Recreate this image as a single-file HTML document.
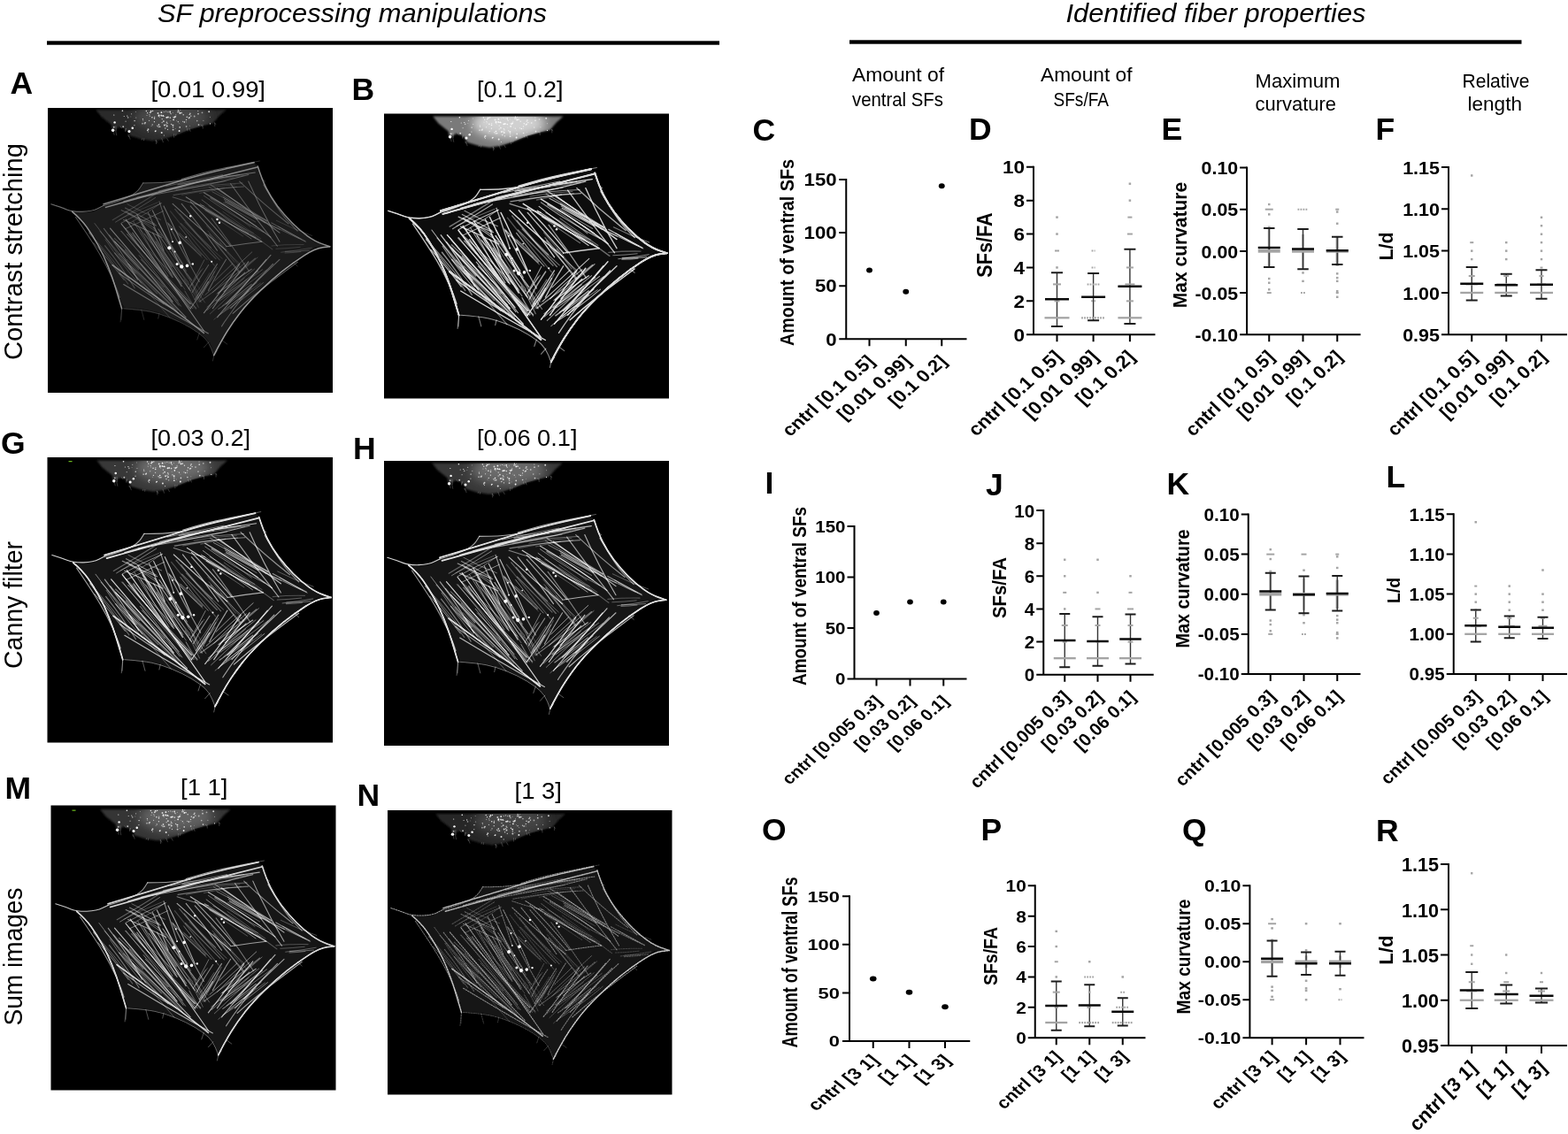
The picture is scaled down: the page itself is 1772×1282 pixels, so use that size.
<!DOCTYPE html>
<html><head><meta charset="utf-8"><title>SF preprocessing manipulations</title>
<style>html,body{margin:0;padding:0;background:#fff}svg{display:block}text{font-family:"Liberation Sans",sans-serif}.a{stroke-width:calc(var(--m)*.8px)}.b{stroke-width:calc(var(--m)*1.05px)}.c{stroke-width:calc(var(--m)*1.5px)}</style></head>
<body><svg width="1772" height="1282" viewBox="0 0 1772 1282">
<defs><clipPath id="sq"><rect width="322" height="322"/></clipPath>
<filter id="b0" x="-5%" y="-5%" width="110%" height="110%"><feGaussianBlur stdDeviation=".35"/></filter>
<filter id="b2" x="-30%" y="-30%" width="160%" height="160%"><feGaussianBlur stdDeviation="6"/></filter>
<filter id="b1" x="-5%" y="-5%" width="110%" height="110%"><feGaussianBlur stdDeviation="1.2"/></filter>
<filter id="bA" x="-5%" y="-5%" width="110%" height="110%"><feGaussianBlur stdDeviation="0.45"/><feComponentTransfer><feFuncA type="linear" slope="0.92"/></feComponentTransfer></filter><filter id="bB" x="-5%" y="-5%" width="110%" height="110%"><feGaussianBlur stdDeviation="0.3"/><feComponentTransfer><feFuncA type="linear" slope="1.7"/></feComponentTransfer></filter><filter id="bG" x="-5%" y="-5%" width="110%" height="110%"><feGaussianBlur stdDeviation="0.4"/><feComponentTransfer><feFuncA type="linear" slope="1.35"/></feComponentTransfer></filter><filter id="bH" x="-5%" y="-5%" width="110%" height="110%"><feGaussianBlur stdDeviation="0.4"/><feComponentTransfer><feFuncA type="linear" slope="1.35"/></feComponentTransfer></filter><filter id="bM" x="-5%" y="-5%" width="110%" height="110%"><feGaussianBlur stdDeviation="0.4"/><feComponentTransfer><feFuncA type="linear" slope="1.3"/></feComponentTransfer></filter><filter id="bN" x="-5%" y="-5%" width="110%" height="110%"><feGaussianBlur stdDeviation="0.35"/><feComponentTransfer><feFuncA type="linear" slope="1.1"/></feComponentTransfer></filter>
<clipPath id="ccl"><polygon points="3.8,108.8 15.1,112.1 27.7,117.2 50.4,116.7 63.0,110.4 83.1,104.6 100.8,95.7 107.8,84.4 131.0,84.4 151.2,80.6 176.4,73.1 201.6,67.5 226.8,62.5 233.1,61.2 237.3,66.0 241.9,80.6 252.0,100.8 267.1,120.9 284.7,138.6 302.3,151.2 318.7,156.7 302.3,158.2 277.1,174.4 252.0,194.5 226.8,219.7 209.1,242.4 196.5,262.5 187.7,280.2 181.9,264.6 171.3,254.5 151.2,242.4 126.0,232.3 105.8,228.3 85.7,226.8 80.6,216.7 73.1,191.5 63.0,166.3 50.4,143.6 37.8,126.0 27.7,117.9 15.1,113.4" stroke="#000" stroke-width="3"/></clipPath>
<g id="cbody"><polygon points="3.8,108.8 15.1,112.1 27.7,117.2 50.4,116.7 63.0,110.4 83.1,104.6 100.8,95.7 107.8,84.4 131.0,84.4 151.2,80.6 176.4,73.1 201.6,67.5 226.8,62.5 233.1,61.2 237.3,66.0 241.9,80.6 252.0,100.8 267.1,120.9 284.7,138.6 302.3,151.2 318.7,156.7 302.3,158.2 277.1,174.4 252.0,194.5 226.8,219.7 209.1,242.4 196.5,262.5 187.7,280.2 181.9,264.6 171.3,254.5 151.2,242.4 126.0,232.3 105.8,228.3 85.7,226.8 80.6,216.7 73.1,191.5 63.0,166.3 50.4,143.6 37.8,126.0 27.7,117.9 15.1,113.4"/></g>
<clipPath id="tcl"><polygon points="54.2,2.0 60.5,10.1 71.8,18.9 73.1,26.5 80.6,21.4 88.2,23.9 93.2,31.5 105.8,35.3 118.4,37.3 131.0,35.3 146.1,30.2 161.2,23.9 176.4,19.7 186.4,17.6 194.0,8.8 201.6,2.0"/></clipPath>
<g id="tbody"><polygon points="54.2,2.0 60.5,10.1 71.8,18.9 73.1,26.5 80.6,21.4 88.2,23.9 93.2,31.5 105.8,35.3 118.4,37.3 131.0,35.3 146.1,30.2 161.2,23.9 176.4,19.7 186.4,17.6 194.0,8.8 201.6,2.0"/></g>
<g id="fib" fill="none" stroke-linecap="round"><path class="c" d="M63.0 108.8Q131.0 88.2 153.7 81.3Q176.4 74.3 204.7 68.0L233.1 61.7" stroke-opacity="0.85"/><path class="c" d="M65.5 112.4Q141.1 91.2 189.0 79.1L236.8 67.0" stroke-opacity="0.80"/><path class="b" d="M85.7 105.8Q161.2 83.6 197.8 78.4L234.3 73.1" stroke-opacity="0.60"/><path class="b" d="M100.8 101.3Q176.4 88.2 201.6 81.9L226.8 75.6" stroke-opacity="0.50"/><path class="b" d="M107.8 84.9Q131.0 84.9 143.6 83.0L156.2 81.1" stroke-opacity="0.55"/><path class="b" d="M3.8 108.8Q15.1 112.4 21.4 114.9Q27.7 117.4 39.1 117.2Q50.4 116.9 56.7 113.6L63.0 110.4" stroke-opacity="0.70"/><path class="b" d="M63.0 110.4Q83.1 104.6 92.0 100.2Q100.8 95.7 104.3 90.2L107.8 84.7" stroke-opacity="0.55"/><path class="b" d="M151.2 80.6Q176.4 73.1 189.0 70.3Q201.6 67.5 217.3 64.4L233.1 61.2" stroke-opacity="0.60"/><path class="c" d="M27.7 117.4Q37.8 126.0 44.1 134.8Q50.4 143.6 56.7 155.0Q63.0 166.3 68.0 178.9Q73.1 191.5 76.8 204.1Q80.6 216.7 82.1 221.7L83.6 226.8" stroke-opacity="0.90"/><path class="b" d="M31.5 123.5Q50.4 151.2 58.2 164.4Q66.0 177.6 71.4 189.6Q76.8 201.6 79.0 207.9L81.1 214.2" stroke-opacity="0.50"/><path class="a" d="M83.6 226.8L83.1 239.4" stroke-opacity="0.30"/><path class="c" d="M73.1 177.6Q105.8 201.6 123.5 214.2Q141.1 226.8 158.7 240.6L176.4 254.5" stroke-opacity="0.80"/><path class="b" d="M85.7 199.5Q131.0 226.8 156.2 240.9L181.4 255.0" stroke-opacity="0.60"/><path class="b" d="M80.6 186.9Q110.9 209.1 126.0 218.2L141.1 227.3" stroke-opacity="0.50"/><path class="a" d="M85.7 226.8Q105.8 228.3 115.9 230.3Q126.0 232.3 138.6 237.3Q151.2 242.4 161.2 248.4Q171.3 254.5 176.6 259.5Q181.9 264.6 184.8 272.1L187.7 279.7" stroke-opacity="0.40"/><path class="c" d="M187.7 279.7Q196.5 262.5 202.8 252.5Q209.1 242.4 217.9 231.0Q226.8 219.7 239.4 207.4Q252.0 195.0 264.6 184.9Q277.1 174.9 289.7 166.8Q302.3 158.7 310.5 157.7L318.7 156.7" stroke-opacity="0.95"/><path class="b" d="M209.1 232.3Q226.8 216.7 239.4 206.9Q252.0 197.0 267.1 185.7L282.2 174.4" stroke-opacity="0.60"/><path class="c" d="M237.3 66.0Q241.9 80.6 246.9 90.7Q252.0 100.8 259.5 110.9Q267.1 120.9 275.9 129.8Q284.7 138.6 293.5 144.9Q302.3 151.2 310.5 153.9L318.7 156.7" stroke-opacity="0.85"/><path class="b" d="M243.9 86.9Q262.0 118.4 272.1 128.7L282.2 139.1" stroke-opacity="0.45"/><path class="b" d="M70.5 136.1Q106.1 177.4 141.1 219.2" stroke-opacity="0.70"/><path class="b" d="M75.6 151.2Q115.5 194.4 156.2 236.8" stroke-opacity="0.60"/><path class="b" d="M83.1 131.0Q119.1 179.0 161.2 221.7" stroke-opacity="0.75"/><path class="b" d="M88.2 126.0Q132.6 188.7 176.4 252.0" stroke-opacity="0.70"/><path class="b" d="M100.8 120.9Q125.9 161.3 151.2 201.6" stroke-opacity="0.60"/><path class="b" d="M105.8 131.0Q123.0 161.5 141.1 191.5" stroke-opacity="0.55"/><path class="b" d="M113.4 118.4Q123.3 139.4 131.0 161.2" stroke-opacity="0.50"/><path class="b" d="M118.4 115.9Q134.7 148.7 151.2 181.4" stroke-opacity="0.60"/><path class="b" d="M95.7 141.1Q127.6 184.6 161.2 226.8" stroke-opacity="0.50"/><path class="b" d="M75.6 163.8Q101.9 194.0 131.0 221.7" stroke-opacity="0.45"/><path class="a" d="M93.7 142.7Q125.4 187.4 163.6 226.7" stroke-opacity="0.46"/><path class="a" d="M84.8 171.9Q111.8 194.8 135.3 221.1" stroke-opacity="0.25"/><path class="b" d="M89.7 142.7Q128.6 184.7 167.7 226.5" stroke-opacity="0.38"/><path class="b" d="M87.4 160.3Q110.9 189.8 138.6 215.2" stroke-opacity="0.33"/><path class="a" d="M89.2 171.1Q116.8 201.1 146.8 228.6" stroke-opacity="0.34"/><path class="a" d="M103.2 166.7Q126.9 193.9 148.0 223.2" stroke-opacity="0.50"/><path class="b" d="M80.5 164.8Q101.0 188.4 123.5 210.0" stroke-opacity="0.27"/><path class="a" d="M83.3 139.2Q118.6 180.3 150.5 224.2" stroke-opacity="0.48"/><path class="a" d="M86.3 134.9Q119.5 164.4 149.6 197.1" stroke-opacity="0.42"/><path class="a" d="M74.3 150.1Q108.8 180.9 141.0 214.2" stroke-opacity="0.38"/><path class="a" d="M89.2 176.9Q112.0 208.5 138.1 237.3" stroke-opacity="0.31"/><path class="b" d="M75.4 147.3Q104.0 174.1 131.1 202.5" stroke-opacity="0.33"/><path class="a" d="M82.3 139.3Q123.0 183.0 161.9 228.3" stroke-opacity="0.32"/><path class="a" d="M105.4 171.4Q127.6 193.6 147.2 218.1" stroke-opacity="0.51"/><path class="b" d="M91.0 176.1Q120.6 202.6 147.6 231.9" stroke-opacity="0.47"/><path class="a" d="M92.0 179.1Q111.2 202.7 133.7 223.3" stroke-opacity="0.28"/><path class="a" d="M124.9 137.1Q143.4 163.9 158.9 192.5" stroke-opacity="0.40"/><path class="a" d="M102.6 126.0Q128.3 161.5 151.6 198.7" stroke-opacity="0.46"/><path class="a" d="M101.1 132.7Q129.9 167.5 155.0 205.2" stroke-opacity="0.36"/><path class="b" d="M119.6 135.2Q140.5 165.7 162.8 195.1" stroke-opacity="0.47"/><path class="b" d="M113.2 140.2Q135.2 169.4 159.0 197.3" stroke-opacity="0.25"/><path class="a" d="M96.6 128.1Q115.6 160.8 139.5 190.1" stroke-opacity="0.43"/><path class="b" d="M125.2 130.3Q138.0 154.1 152.9 176.7" stroke-opacity="0.43"/><path class="a" d="M104.0 136.8Q118.8 164.3 136.0 190.4" stroke-opacity="0.47"/><path class="a" d="M109.4 142.3Q127.5 164.3 142.5 188.5" stroke-opacity="0.40"/><path class="b" d="M122.2 151.0Q131.1 165.3 140.3 179.4" stroke-opacity="0.35"/><path class="a" d="M123.3 143.7Q141.1 171.7 158.7 199.9" stroke-opacity="0.26"/><path class="a" d="M125.0 136.8Q142.5 159.3 156.3 184.3" stroke-opacity="0.48"/><path class="b" d="M131.0 110.9Q147.2 143.1 161.2 176.4" stroke-opacity="0.60"/><path class="b" d="M141.1 108.3Q170.6 135.7 201.6 161.2" stroke-opacity="0.60"/><path class="b" d="M151.2 108.3Q172.6 133.8 191.5 161.2" stroke-opacity="0.55"/><path class="b" d="M161.2 105.8Q185.3 129.8 206.6 156.2" stroke-opacity="0.55"/><path class="b" d="M118.4 141.1Q137.7 175.2 161.2 206.6" stroke-opacity="0.50"/><path class="b" d="M136.1 131.0Q152.9 164.2 171.3 196.5" stroke-opacity="0.45"/><path class="b" d="M126.0 105.8Q133.7 128.4 141.1 151.2" stroke-opacity="0.45"/><path class="b" d="M135.1 129.5Q152.9 149.6 173.2 167.2" stroke-opacity="0.31"/><path class="a" d="M136.4 130.5Q154.3 151.0 174.3 169.4" stroke-opacity="0.23"/><path class="a" d="M143.4 136.9Q155.9 148.7 167.5 161.4" stroke-opacity="0.24"/><path class="b" d="M149.4 119.8Q165.6 140.4 184.7 158.2" stroke-opacity="0.28"/><path class="b" d="M138.4 116.7Q163.0 147.7 188.3 178.1" stroke-opacity="0.21"/><path class="a" d="M155.0 129.4Q175.0 151.0 197.2 170.4" stroke-opacity="0.31"/><path class="b" d="M143.7 114.4Q168.3 143.8 194.3 172.0" stroke-opacity="0.31"/><path class="a" d="M148.9 141.4Q162.3 152.7 173.7 166.0" stroke-opacity="0.32"/><path class="b" d="M150.4 130.5Q170.2 150.7 190.0 170.7" stroke-opacity="0.29"/><path class="a" d="M148.6 133.9Q163.0 153.8 180.0 171.5" stroke-opacity="0.43"/><path class="b" d="M156.2 100.8Q198.1 127.5 241.9 151.2" stroke-opacity="0.65"/><path class="b" d="M176.4 95.7Q215.7 118.7 252.0 146.1" stroke-opacity="0.60"/><path class="b" d="M191.5 90.7Q226.9 115.6 262.0 141.1" stroke-opacity="0.60"/><path class="b" d="M206.6 85.7Q232.3 121.5 259.5 156.2" stroke-opacity="0.50"/><path class="b" d="M226.8 83.1Q242.2 118.3 262.0 151.2" stroke-opacity="0.55"/><path class="b" d="M201.6 156.7Q221.7 153.5 241.9 151.2" stroke-opacity="0.55"/><path class="b" d="M161.2 110.9Q181.2 133.8 201.6 156.2" stroke-opacity="0.50"/><path class="b" d="M141.1 100.8Q158.4 106.9 176.4 110.9" stroke-opacity="0.40"/><path class="b" d="M216.7 83.1Q243.3 108.4 272.1 131.0" stroke-opacity="0.45"/><path class="b" d="M177.9 115.6Q206.0 131.8 234.8 146.8" stroke-opacity="0.47"/><path class="a" d="M174.1 103.9Q199.6 124.2 226.9 142.0" stroke-opacity="0.54"/><path class="a" d="M203.5 105.5Q221.0 115.8 238.7 125.8" stroke-opacity="0.27"/><path class="b" d="M181.9 110.8Q219.2 133.4 253.9 159.9" stroke-opacity="0.27"/><path class="b" d="M199.4 103.5Q230.1 122.3 262.7 137.5" stroke-opacity="0.40"/><path class="a" d="M197.9 117.3Q219.3 132.7 240.9 148.0" stroke-opacity="0.28"/><path class="a" d="M198.3 101.0Q222.4 114.9 245.5 130.1" stroke-opacity="0.50"/><path class="b" d="M200.3 106.0Q218.5 116.1 236.6 126.0" stroke-opacity="0.51"/><path class="a" d="M176.4 99.3Q208.5 122.4 243.7 140.5" stroke-opacity="0.43"/><path class="b" d="M183.8 101.5Q211.0 116.0 236.0 134.1" stroke-opacity="0.40"/><path class="a" d="M183.8 102.4Q207.3 117.1 229.0 134.5" stroke-opacity="0.33"/><path class="a" d="M198.4 107.1Q216.4 118.4 234.7 129.0" stroke-opacity="0.35"/><path class="a" d="M167.6 108.5Q199.5 126.0 232.4 141.6" stroke-opacity="0.31"/><path class="a" d="M185.9 94.8Q216.9 111.2 247.9 127.5" stroke-opacity="0.47"/><path class="a" d="M182.2 89.6Q216.1 110.0 250.2 130.2" stroke-opacity="0.36"/><path class="b" d="M184.1 86.9Q215.4 107.8 247.4 127.6" stroke-opacity="0.41"/><path class="a" d="M172.2 108.5Q201.7 127.4 230.1 148.0" stroke-opacity="0.52"/><path class="a" d="M170.5 110.2Q194.9 128.6 220.6 145.2" stroke-opacity="0.29"/><path class="a" d="M143.5 91.7Q172.3 86.7 201.2 82.5" stroke-opacity="0.36"/><path class="b" d="M142.0 98.4Q181.5 91.3 221.5 89.1" stroke-opacity="0.38"/><path class="a" d="M163.8 92.5Q187.7 88.2 211.9 86.9" stroke-opacity="0.24"/><path class="a" d="M156.6 86.4Q183.3 81.5 210.4 79.1" stroke-opacity="0.23"/><path class="b" d="M171.5 96.5Q185.5 93.4 199.4 90.5" stroke-opacity="0.21"/><path class="a" d="M151.5 98.3Q182.1 91.4 213.4 89.3" stroke-opacity="0.29"/><path class="b" d="M161.2 226.8Q171.8 212.0 181.4 196.5" stroke-opacity="0.60"/><path class="b" d="M176.4 231.8Q198.0 205.2 216.7 176.4" stroke-opacity="0.65"/><path class="b" d="M186.4 226.8Q205.3 199.3 226.8 173.8" stroke-opacity="0.65"/><path class="b" d="M191.5 236.8Q219.0 203.9 246.9 171.3" stroke-opacity="0.60"/><path class="b" d="M201.6 221.7Q227.8 195.0 252.0 166.3" stroke-opacity="0.60"/><path class="b" d="M206.6 226.8Q230.2 201.2 254.5 176.4" stroke-opacity="0.55"/><path class="b" d="M216.7 216.7Q238.2 192.9 262.0 171.3" stroke-opacity="0.55"/><path class="b" d="M181.4 206.6Q190.5 188.4 201.6 171.3" stroke-opacity="0.50"/><path class="b" d="M166.3 216.7Q178.9 196.5 191.5 176.4" stroke-opacity="0.50"/><path class="b" d="M196.5 246.9Q210.1 225.6 226.8 206.6" stroke-opacity="0.50"/><path class="a" d="M203.7 221.8Q220.1 209.8 236.2 197.4" stroke-opacity="0.44"/><path class="b" d="M199.0 207.8Q211.3 197.5 222.7 186.1" stroke-opacity="0.52"/><path class="b" d="M192.8 227.4Q212.2 214.2 230.3 199.4" stroke-opacity="0.46"/><path class="a" d="M190.8 210.2Q213.5 189.0 237.1 169.0" stroke-opacity="0.39"/><path class="a" d="M193.8 218.4Q218.6 201.2 242.5 182.8" stroke-opacity="0.45"/><path class="b" d="M190.2 218.3Q214.6 202.3 237.5 184.3" stroke-opacity="0.44"/><path class="a" d="M187.8 239.2Q212.6 216.8 240.3 198.1" stroke-opacity="0.33"/><path class="a" d="M178.0 211.3Q204.5 187.1 230.8 162.9" stroke-opacity="0.52"/><path class="a" d="M200.0 228.3Q215.3 216.3 230.3 203.9" stroke-opacity="0.49"/><path class="a" d="M183.3 232.9Q203.9 213.4 224.5 194.0" stroke-opacity="0.39"/><path class="a" d="M180.2 228.6Q200.9 209.9 222.3 192.1" stroke-opacity="0.41"/><path class="a" d="M186.5 208.3Q203.5 190.3 223.0 175.1" stroke-opacity="0.46"/><path class="b" d="M171.5 219.1Q204.0 195.8 234.6 170.0" stroke-opacity="0.37"/><path class="a" d="M188.8 195.5Q198.7 185.7 208.7 176.1" stroke-opacity="0.52"/><path class="a" d="M192.7 234.8Q219.5 218.1 243.5 197.6" stroke-opacity="0.47"/><path class="a" d="M197.4 223.6Q220.9 201.5 247.3 183.1" stroke-opacity="0.39"/><path class="a" d="M179.9 225.1Q207.0 203.9 233.6 182.1" stroke-opacity="0.39"/><path class="b" d="M192.4 209.5Q210.7 195.1 230.3 182.3" stroke-opacity="0.54"/><path class="a" d="M162.5 200.0Q168.1 191.9 173.3 183.5" stroke-opacity="0.34"/><path class="a" d="M167.6 209.0Q176.1 198.4 182.9 186.6" stroke-opacity="0.30"/><path class="a" d="M176.1 208.7Q184.0 194.6 191.3 180.2" stroke-opacity="0.32"/><path class="a" d="M159.2 204.8Q168.4 188.5 176.9 171.8" stroke-opacity="0.42"/><path class="b" d="M163.3 208.6Q171.4 192.4 181.7 177.5" stroke-opacity="0.44"/><path class="a" d="M161.9 201.2Q168.2 191.2 175.3 181.6" stroke-opacity="0.30"/><path class="a" d="M169.8 214.8Q179.4 202.8 188.0 190.2" stroke-opacity="0.33"/><path class="a" d="M172.2 215.1Q179.4 199.5 188.5 184.9" stroke-opacity="0.47"/><path class="a" d="M158.5 198.1Q165.3 208.0 171.1 218.6" stroke-opacity="0.36"/><path class="a" d="M154.0 194.1Q163.0 209.2 170.3 225.3" stroke-opacity="0.34"/><path class="a" d="M163.8 199.0Q170.0 210.0 177.6 220.0" stroke-opacity="0.34"/><path class="a" d="M155.0 207.2Q160.0 216.6 164.7 226.3" stroke-opacity="0.26"/><path class="a" d="M154.9 206.9Q161.4 217.2 167.5 227.8" stroke-opacity="0.27"/><path class="b" d="M159.6 192.8Q166.2 206.1 173.1 219.4" stroke-opacity="0.31"/><path class="a" d="M167.2 197.6Q171.7 205.0 176.3 212.3" stroke-opacity="0.20"/><path class="a" d="M161.8 204.1Q165.5 212.1 169.8 219.8" stroke-opacity="0.21"/><path class="b" d="M252.9 155.9Q270.9 154.2 289.1 154.6" stroke-opacity="0.22"/><path class="a" d="M263.7 163.2Q281.0 161.4 298.2 158.2" stroke-opacity="0.35"/><path class="a" d="M257.8 159.3Q271.5 158.8 285.2 157.3" stroke-opacity="0.30"/><path class="b" d="M268.4 162.2Q282.0 162.3 295.5 161.0" stroke-opacity="0.33"/><path class="b" d="M268.0 163.9Q277.0 163.6 285.9 162.5" stroke-opacity="0.30"/><path class="a" d="M83.0 130.2Q105.1 117.8 128.4 107.7" stroke-opacity="0.50"/><path class="a" d="M81.0 126.3Q102.0 115.2 124.2 106.8" stroke-opacity="0.26"/><path class="a" d="M92.1 130.5Q110.6 120.3 127.6 107.8" stroke-opacity="0.36"/><path class="b" d="M73.2 126.7Q97.7 112.4 121.7 97.3" stroke-opacity="0.31"/><path class="a" d="M76.5 129.2Q99.1 115.5 121.6 101.5" stroke-opacity="0.44"/><path class="a" d="M87.9 136.6Q109.3 126.8 130.4 116.7" stroke-opacity="0.48"/><path class="b" d="M85.6 126.6Q107.5 136.1 129.0 146.4" stroke-opacity="0.49"/><path class="a" d="M90.4 119.3Q110.5 130.3 128.7 144.3" stroke-opacity="0.41"/><path class="a" d="M88.1 116.8Q104.7 125.4 120.3 135.8" stroke-opacity="0.40"/><path class="b" d="M87.4 113.0Q104.5 121.5 120.9 131.3" stroke-opacity="0.41"/><path class="b" d="M83.2 115.6Q102.4 125.3 122.4 133.1" stroke-opacity="0.46"/><path class="a" d="M89.9 108.8Q108.0 118.9 127.5 126.3" stroke-opacity="0.37"/><path class="b" d="M64.5 155.7Q82.9 178.6 98.2 203.7" stroke-opacity="0.38"/><path class="b" d="M46.4 141.2Q69.5 169.4 90.8 199.0" stroke-opacity="0.30"/><path class="a" d="M52.9 130.5Q78.2 165.0 105.6 197.9" stroke-opacity="0.46"/><path class="b" d="M63.3 136.3Q84.7 163.8 101.5 194.2" stroke-opacity="0.50"/><path class="a" d="M65.1 148.7Q83.0 176.6 105.0 201.3" stroke-opacity="0.39"/><path class="a" d="M46.9 140.8Q70.2 167.2 91.8 195.0" stroke-opacity="0.36"/><path class="b" d="M59.1 139.5Q79.7 162.8 99.1 187.2" stroke-opacity="0.31"/><path class="a" d="M51.8 152.6Q70.2 172.6 86.2 194.6" stroke-opacity="0.50"/><path class="b" d="M69.5 143.9Q85.8 163.5 102.7 182.5" stroke-opacity="0.37"/><path class="a" d="M258.3 127.3Q278.0 137.3 298.8 144.5" stroke-opacity="0.30"/><path class="a" d="M260.6 134.1Q274.0 141.0 286.9 148.7" stroke-opacity="0.41"/><path class="b" d="M252.8 129.9Q271.6 140.7 290.9 150.6" stroke-opacity="0.45"/><path class="a" d="M251.5 132.6Q271.9 141.7 291.8 151.5" stroke-opacity="0.36"/><path class="b" d="M264.4 137.4Q273.9 143.1 284.0 147.6" stroke-opacity="0.24"/><path class="b" d="M125.3 93.9Q165.5 84.6 205.8 75.1" stroke-opacity="0.38"/><path class="a" d="M145.2 92.5Q182.4 86.2 220.1 84.9" stroke-opacity="0.36"/><path class="a" d="M133.7 88.5Q165.6 81.9 197.6 75.6" stroke-opacity="0.43"/><path class="a" d="M149.5 84.2Q185.4 80.7 221.2 76.5" stroke-opacity="0.34"/><path class="a" d="M147.2 86.4Q166.9 85.0 186.3 81.6" stroke-opacity="0.35"/><path class="a" d="M146.8 86.8Q181.8 81.4 216.7 75.5" stroke-opacity="0.41"/><path class="b" d="M185.1 124.9Q207.2 154.0 227.4 184.5" stroke-opacity="0.39"/><path class="a" d="M186.1 149.4Q202.0 167.3 216.2 186.6" stroke-opacity="0.36"/><path class="a" d="M179.5 133.5Q200.7 157.6 220.0 183.2" stroke-opacity="0.23"/><path class="a" d="M180.9 139.1Q197.6 159.2 217.1 176.5" stroke-opacity="0.33"/><path class="b" d="M182.7 142.6Q198.9 164.5 216.7 185.1" stroke-opacity="0.34"/><path class="a" d="M194.2 151.8Q202.5 163.3 211.0 174.5" stroke-opacity="0.28"/><path d="M83.6 226.8L82.1 241.9" stroke-opacity=".35" class="a"/><path d="M105.8 228.3L108.8 239.4" stroke-opacity=".35" class="a"/><path d="M126.0 232.3L124.7 238.1" stroke-opacity=".35" class="a"/><path d="M187.7 280.2L186.4 286.0" stroke-opacity=".35" class="a"/><path d="M196.5 262.5L202.8 267.1" stroke-opacity=".35" class="a"/><path d="M181.9 264.6L176.4 270.8" stroke-opacity=".35" class="a"/><path d="M233.1 61.2L239.4 60.0" stroke-opacity=".35" class="a"/><path d="M241.9 80.6L245.7 83.1" stroke-opacity=".35" class="a"/><path d="M277.1 174.4L282.2 178.9" stroke-opacity=".35" class="a"/><path d="M171.3 254.5L168.8 262.0" stroke-opacity=".35" class="a"/><path d="M187.7 280.2L191.5 274.6" stroke-opacity=".35" class="a"/></g>
<g id="spots"><circle cx="137.3" cy="158.2" r="2.0"/><circle cx="149.2" cy="152.4" r="1.8"/><circle cx="146.1" cy="176.4" r="1.5"/><circle cx="151.2" cy="179.4" r="2.1"/><circle cx="157.5" cy="178.4" r="1.8"/><circle cx="163.8" cy="176.4" r="1.2"/><circle cx="161.2" cy="122.2" r="1.2"/><circle cx="191.5" cy="126.0" r="1.2"/><circle cx="194.0" cy="129.8" r="1.2"/><circle cx="139.8" cy="137.3" r="1.0"/><circle cx="141.1" cy="151.2" r="0.9"/><circle cx="143.6" cy="162.5" r="0.9"/><circle cx="185.2" cy="173.8" r="1.0"/><circle cx="156.2" cy="146.1" r="0.8"/></g>
<g id="speck"><circle cx="135.5" cy="24.3" r="0.62" fill-opacity="0.80"/><circle cx="126.3" cy="10.6" r="0.41" fill-opacity="0.92"/><circle cx="131.9" cy="19.6" r="1.00" fill-opacity="0.74"/><circle cx="148.3" cy="4.2" r="0.78" fill-opacity="0.58"/><circle cx="90.7" cy="10.9" r="0.80" fill-opacity="0.53"/><circle cx="130.9" cy="15.1" r="0.92" fill-opacity="0.74"/><circle cx="96.1" cy="22.9" r="0.67" fill-opacity="0.97"/><circle cx="141.5" cy="10.2" r="0.48" fill-opacity="0.61"/><circle cx="160.2" cy="10.9" r="0.78" fill-opacity="0.65"/><circle cx="107.4" cy="12.6" r="0.61" fill-opacity="0.79"/><circle cx="84.4" cy="3.2" r="0.81" fill-opacity="0.96"/><circle cx="125.6" cy="8.3" r="0.92" fill-opacity="0.98"/><circle cx="160.9" cy="6.4" r="0.83" fill-opacity="0.61"/><circle cx="149.7" cy="2.8" r="0.57" fill-opacity="0.53"/><circle cx="120.4" cy="15.7" r="0.58" fill-opacity="0.88"/><circle cx="138.4" cy="11.1" r="0.77" fill-opacity="0.52"/><circle cx="128.4" cy="5.1" r="0.93" fill-opacity="0.99"/><circle cx="129.2" cy="16.4" r="0.76" fill-opacity="0.52"/><circle cx="141.6" cy="21.7" r="0.77" fill-opacity="0.58"/><circle cx="183.5" cy="17.8" r="0.59" fill-opacity="0.98"/><circle cx="153.2" cy="7.7" r="0.68" fill-opacity="0.76"/><circle cx="111.4" cy="3.5" r="0.74" fill-opacity="0.81"/><circle cx="161.8" cy="9.1" r="0.66" fill-opacity="0.86"/><circle cx="134.7" cy="20.6" r="0.99" fill-opacity="0.76"/><circle cx="129.2" cy="12.6" r="0.65" fill-opacity="0.79"/><circle cx="168.7" cy="14.6" r="0.78" fill-opacity="0.53"/><circle cx="112.7" cy="5.8" r="0.81" fill-opacity="0.68"/><circle cx="142.1" cy="13.4" r="0.81" fill-opacity="0.98"/><circle cx="132.8" cy="22.9" r="0.76" fill-opacity="0.66"/><circle cx="118.2" cy="18.9" r="0.62" fill-opacity="0.80"/><circle cx="125.1" cy="21.3" r="0.86" fill-opacity="0.51"/><circle cx="94.6" cy="6.8" r="0.59" fill-opacity="0.61"/><circle cx="139.4" cy="6.7" r="0.51" fill-opacity="0.72"/><circle cx="129.1" cy="9.0" r="0.59" fill-opacity="0.67"/><circle cx="147.0" cy="4.6" r="0.91" fill-opacity="0.58"/><circle cx="113.5" cy="24.2" r="0.93" fill-opacity="0.73"/><circle cx="135.1" cy="17.5" r="0.72" fill-opacity="0.60"/><circle cx="141.5" cy="19.6" r="0.88" fill-opacity="0.82"/><circle cx="141.3" cy="5.2" r="0.48" fill-opacity="0.65"/><circle cx="138.6" cy="6.1" r="0.61" fill-opacity="0.71"/><circle cx="109.6" cy="17.5" r="0.95" fill-opacity="0.58"/><circle cx="74.7" cy="21.8" r="0.96" fill-opacity="0.61"/><circle cx="116.6" cy="3.7" r="0.57" fill-opacity="0.67"/><circle cx="134.4" cy="16.3" r="0.75" fill-opacity="0.64"/><circle cx="135.9" cy="10.5" r="0.94" fill-opacity="0.85"/><circle cx="182.2" cy="4.2" r="0.94" fill-opacity="0.79"/><circle cx="175.9" cy="14.2" r="0.50" fill-opacity="0.65"/><circle cx="116.5" cy="3.6" r="0.65" fill-opacity="0.97"/><circle cx="114.9" cy="7.7" r="0.55" fill-opacity="0.93"/><circle cx="88.1" cy="15.2" r="0.61" fill-opacity="0.60"/><circle cx="86.2" cy="9.4" r="0.50" fill-opacity="0.90"/><circle cx="174.5" cy="5.3" r="0.89" fill-opacity="0.50"/><circle cx="152.7" cy="15.2" r="0.56" fill-opacity="0.76"/><circle cx="107.0" cy="17.7" r="0.87" fill-opacity="0.50"/><circle cx="145.7" cy="14.6" r="0.47" fill-opacity="0.53"/><circle cx="183.4" cy="10.2" r="0.45" fill-opacity="0.75"/><circle cx="123.9" cy="20.2" r="0.61" fill-opacity="0.82"/><circle cx="112.0" cy="8.6" r="0.51" fill-opacity="0.66"/><circle cx="156.6" cy="21.0" r="0.83" fill-opacity="0.69"/><circle cx="147.3" cy="15.7" r="0.62" fill-opacity="0.80"/><circle cx="138.2" cy="4.4" r="0.88" fill-opacity="0.81"/><circle cx="110.2" cy="16.6" r="0.70" fill-opacity="0.85"/><circle cx="97.9" cy="19.6" r="0.68" fill-opacity="0.62"/><circle cx="93.9" cy="9.9" r="0.44" fill-opacity="0.71"/><circle cx="85.2" cy="21.3" r="0.96" fill-opacity="0.69"/><circle cx="169.8" cy="3.5" r="0.56" fill-opacity="0.73"/><circle cx="160.6" cy="20.2" r="0.40" fill-opacity="0.57"/><circle cx="134.2" cy="10.3" r="0.46" fill-opacity="0.55"/><circle cx="144.9" cy="9.1" r="0.41" fill-opacity="0.92"/><circle cx="165.7" cy="9.5" r="0.88" fill-opacity="0.52"/><circle cx="130.3" cy="8.8" r="0.85" fill-opacity="0.97"/><circle cx="154.3" cy="16.0" r="0.74" fill-opacity="0.91"/><circle cx="133.8" cy="18.7" r="0.55" fill-opacity="0.81"/><circle cx="133.6" cy="4.0" r="0.62" fill-opacity="0.70"/><circle cx="117.1" cy="20.6" r="0.45" fill-opacity="0.75"/><circle cx="159.4" cy="11.4" r="0.85" fill-opacity="0.58"/><circle cx="118.6" cy="3.4" r="0.69" fill-opacity="0.82"/><circle cx="144.8" cy="9.9" r="0.46" fill-opacity="0.87"/><circle cx="160.2" cy="7.6" r="0.67" fill-opacity="0.86"/><circle cx="141.0" cy="19.5" r="0.52" fill-opacity="0.79"/><circle cx="125.5" cy="19.0" r="0.81" fill-opacity="0.98"/><circle cx="121.4" cy="26.5" r="0.65" fill-opacity="0.93"/><circle cx="115.3" cy="9.4" r="0.53" fill-opacity="0.51"/><circle cx="107.7" cy="14.1" r="0.50" fill-opacity="0.68"/><circle cx="113.4" cy="27.0" r="0.49" fill-opacity="1.00"/><circle cx="98.1" cy="14.6" r="0.68" fill-opacity="0.92"/><circle cx="147.4" cy="2.7" r="0.69" fill-opacity="0.86"/><circle cx="149.3" cy="5.9" r="0.84" fill-opacity="0.98"/><circle cx="114.6" cy="14.3" r="0.54" fill-opacity="0.86"/><circle cx="144.8" cy="7.7" r="0.51" fill-opacity="0.63"/><circle cx="148.6" cy="26.0" r="0.92" fill-opacity="0.95"/><circle cx="131.4" cy="31.0" r="0.59" fill-opacity="0.71"/><circle cx="131.5" cy="9.2" r="0.46" fill-opacity="0.92"/><circle cx="126.7" cy="21.2" r="0.75" fill-opacity="0.84"/><circle cx="156.5" cy="13.4" r="0.66" fill-opacity="0.74"/><circle cx="141.6" cy="24.6" r="0.97" fill-opacity="0.70"/><circle cx="120.4" cy="11.8" r="0.56" fill-opacity="0.83"/><circle cx="142.9" cy="10.8" r="0.96" fill-opacity="0.69"/><circle cx="122.0" cy="26.0" r="0.79" fill-opacity="0.90"/><circle cx="128.7" cy="28.0" r="0.98" fill-opacity="0.84"/><circle cx="120.6" cy="12.0" r="0.70" fill-opacity="0.68"/><circle cx="117.9" cy="10.7" r="0.79" fill-opacity="0.82"/><circle cx="125.5" cy="9.2" r="0.96" fill-opacity="0.57"/><circle cx="112.7" cy="25.5" r="0.76" fill-opacity="0.78"/><circle cx="115.7" cy="5.0" r="0.59" fill-opacity="0.59"/><circle cx="170.5" cy="19.0" r="0.85" fill-opacity="0.77"/><circle cx="131.4" cy="4.5" r="0.56" fill-opacity="0.69"/><circle cx="138.3" cy="11.1" r="0.70" fill-opacity="0.62"/><circle cx="135.9" cy="4.6" r="0.60" fill-opacity="0.70"/><circle cx="89.8" cy="9.0" r="0.61" fill-opacity="0.92"/><circle cx="148.7" cy="17.6" r="0.46" fill-opacity="0.56"/><circle cx="139.7" cy="18.3" r="0.65" fill-opacity="0.87"/><circle cx="120.7" cy="10.2" r="0.64" fill-opacity="0.60"/><circle cx="99.8" cy="11.0" r="0.52" fill-opacity="0.63"/><circle cx="134.3" cy="10.8" r="0.88" fill-opacity="0.95"/><circle cx="157.3" cy="10.2" r="0.73" fill-opacity="0.79"/><circle cx="124.5" cy="6.0" r="0.92" fill-opacity="0.74"/><circle cx="99.3" cy="4.4" r="0.40" fill-opacity="0.89"/><circle cx="117.1" cy="4.1" r="0.71" fill-opacity="0.73"/><circle cx="144.1" cy="23.4" r="0.42" fill-opacity="0.75"/><circle cx="115.9" cy="5.3" r="0.74" fill-opacity="0.98"/><circle cx="143.9" cy="10.0" r="0.88" fill-opacity="0.81"/><circle cx="156.3" cy="15.7" r="0.54" fill-opacity="0.54"/><circle cx="74.8" cy="8.0" r="0.59" fill-opacity="0.94"/><circle cx="128.2" cy="8.5" r="0.91" fill-opacity="0.80"/><circle cx="170.0" cy="6.7" r="0.84" fill-opacity="0.67"/><circle cx="151.0" cy="5.6" r="0.85" fill-opacity="0.74"/><circle cx="138.9" cy="14.7" r="0.45" fill-opacity="0.60"/><circle cx="149.2" cy="21.9" r="0.82" fill-opacity="0.77"/><circle cx="73.6" cy="25.2" r="1.70" fill-opacity="1.00"/><circle cx="92.0" cy="26.5" r="1.50" fill-opacity="1.00"/><circle cx="75.6" cy="16.4" r="1.20" fill-opacity="1.00"/><circle cx="95.7" cy="22.7" r="1.20" fill-opacity="1.00"/><path d="M74.0 25.5l1.2 5.2" stroke="#fff" stroke-opacity=".3" stroke-width=".7"/><path d="M76.6 25.5l1.2 5.7" stroke="#fff" stroke-opacity=".3" stroke-width=".7"/><path d="M76.9 20.4l0.4 5.8" stroke="#fff" stroke-opacity=".3" stroke-width=".7"/><path d="M81.8 20.4l1.7 2.5" stroke="#fff" stroke-opacity=".3" stroke-width=".7"/><path d="M87.9 22.9l-0.3 4.2" stroke="#fff" stroke-opacity=".3" stroke-width=".7"/><path d="M88.8 22.9l-1.0 2.9" stroke="#fff" stroke-opacity=".3" stroke-width=".7"/><path d="M91.5 30.5l1.7 5.1" stroke="#fff" stroke-opacity=".3" stroke-width=".7"/><path d="M90.5 30.5l1.4 2.6" stroke="#fff" stroke-opacity=".3" stroke-width=".7"/><path d="M106.8 34.3l-0.6 2.0" stroke="#fff" stroke-opacity=".3" stroke-width=".7"/><path d="M108.8 34.3l-0.4 2.9" stroke="#fff" stroke-opacity=".3" stroke-width=".7"/><path d="M122.3 36.3l1.6 3.2" stroke="#fff" stroke-opacity=".3" stroke-width=".7"/><path d="M122.1 36.3l0.6 4.7" stroke="#fff" stroke-opacity=".3" stroke-width=".7"/><path d="M128.7 34.3l1.8 4.8" stroke="#fff" stroke-opacity=".3" stroke-width=".7"/><path d="M134.7 34.3l1.7 3.2" stroke="#fff" stroke-opacity=".3" stroke-width=".7"/><path d="M145.0 29.2l-0.5 2.6" stroke="#fff" stroke-opacity=".3" stroke-width=".7"/><path d="M142.7 29.2l-0.1 4.4" stroke="#fff" stroke-opacity=".3" stroke-width=".7"/><path d="M157.3 22.9l1.0 3.4" stroke="#fff" stroke-opacity=".3" stroke-width=".7"/><path d="M159.7 22.9l1.5 3.9" stroke="#fff" stroke-opacity=".3" stroke-width=".7"/><path d="M174.9 18.7l0.4 4.8" stroke="#fff" stroke-opacity=".3" stroke-width=".7"/><path d="M172.8 18.7l1.9 2.1" stroke="#fff" stroke-opacity=".3" stroke-width=".7"/><path d="M188.4 16.6l1.5 2.1" stroke="#fff" stroke-opacity=".3" stroke-width=".7"/><path d="M188.7 16.6l0.1 4.3" stroke="#fff" stroke-opacity=".3" stroke-width=".7"/></g>
</defs>
<rect width="1772" height="1282" fill="#fff"/>
<text transform="translate(178.00 25.00)" font-size="30" font-style="italic" textLength="440.0" lengthAdjust="spacingAndGlyphs">SF preprocessing manipulations</text>
<text transform="translate(1204.50 25.00)" font-size="30" font-style="italic" textLength="339.0" lengthAdjust="spacingAndGlyphs">Identified fiber properties</text>
<rect x="53" y="46.3" width="760" height="4.4"/>
<rect x="960" y="45.3" width="759.5" height="4.4"/>
<text transform="translate(963.00 92.00)" font-size="21.5" textLength="104.0" lengthAdjust="spacingAndGlyphs">Amount of</text>
<text transform="translate(963.00 119.50)" font-size="21.5" textLength="103.0" lengthAdjust="spacingAndGlyphs">ventral SFs</text>
<text transform="translate(1176.00 92.00)" font-size="21.5" textLength="103.5" lengthAdjust="spacingAndGlyphs">Amount of</text>
<text transform="translate(1190.50 119.50)" font-size="21.5" textLength="62.5" lengthAdjust="spacingAndGlyphs">SFs/FA</text>
<text transform="translate(1418.50 98.50)" font-size="21.5" textLength="96.0" lengthAdjust="spacingAndGlyphs">Maximum</text>
<text transform="translate(1418.50 125.00)" font-size="21.5" textLength="91.5" lengthAdjust="spacingAndGlyphs">curvature</text>
<text transform="translate(1652.50 98.50)" font-size="21.5" textLength="76.0" lengthAdjust="spacingAndGlyphs">Relative</text>
<text transform="translate(1658.50 125.00)" font-size="21.5" textLength="61.5" lengthAdjust="spacingAndGlyphs">length</text>
<text transform="translate(11.50 105.50)" font-size="35.5" font-weight="bold">A</text>
<text transform="translate(397.50 112.50)" font-size="35.5" font-weight="bold">B</text>
<text transform="translate(850.50 159.00)" font-size="35.5" font-weight="bold">C</text>
<text transform="translate(1095.00 158.00)" font-size="35.5" font-weight="bold">D</text>
<text transform="translate(1312.50 158.00)" font-size="35.5" font-weight="bold">E</text>
<text transform="translate(1554.50 158.00)" font-size="35.5" font-weight="bold">F</text>
<text transform="translate(1.00 513.00)" font-size="35.5" font-weight="bold">G</text>
<text transform="translate(399.00 518.75)" font-size="35.5" font-weight="bold">H</text>
<text transform="translate(864.50 557.50)" font-size="35.5" font-weight="bold">I</text>
<text transform="translate(1114.00 559.50)" font-size="35.5" font-weight="bold">J</text>
<text transform="translate(1318.50 558.75)" font-size="35.5" font-weight="bold">K</text>
<text transform="translate(1566.50 551.25)" font-size="35.5" font-weight="bold">L</text>
<text transform="translate(5.50 903.00)" font-size="35.5" font-weight="bold">M</text>
<text transform="translate(403.50 910.50)" font-size="35.5" font-weight="bold">N</text>
<text transform="translate(861.00 950.00)" font-size="35.5" font-weight="bold">O</text>
<text transform="translate(1108.50 950.00)" font-size="35.5" font-weight="bold">P</text>
<text transform="translate(1336.00 950.00)" font-size="35.5" font-weight="bold">Q</text>
<text transform="translate(1555.00 950.50)" font-size="35.5" font-weight="bold">R</text>
<text transform="translate(170.50 110.30)" font-size="26" textLength="129.5" lengthAdjust="spacingAndGlyphs">[0.01 0.99]</text>
<text transform="translate(539.00 110.30)" font-size="26" textLength="97.5" lengthAdjust="spacingAndGlyphs">[0.1 0.2]</text>
<text transform="translate(170.50 503.50)" font-size="26" textLength="112.5" lengthAdjust="spacingAndGlyphs">[0.03 0.2]</text>
<text transform="translate(539.00 503.50)" font-size="26" textLength="113.5" lengthAdjust="spacingAndGlyphs">[0.06 0.1]</text>
<text transform="translate(204.00 898.50)" font-size="26" textLength="53.5" lengthAdjust="spacingAndGlyphs">[1 1]</text>
<text transform="translate(581.50 902.50)" font-size="26" textLength="53.5" lengthAdjust="spacingAndGlyphs">[1 3]</text>
<text transform="translate(24.50 284.50) rotate(-90)" font-size="29" text-anchor="middle" textLength="245.0" lengthAdjust="spacingAndGlyphs">Contrast stretching</text>
<text transform="translate(24.50 684.00) rotate(-90)" font-size="29" text-anchor="middle" textLength="144.0" lengthAdjust="spacingAndGlyphs">Canny filter</text>
<text transform="translate(24.50 1081.50) rotate(-90)" font-size="29" text-anchor="middle" textLength="156.0" lengthAdjust="spacingAndGlyphs">Sum images</text>
<g transform="translate(54.0 122.0) scale(1.0000)">
<rect width="322" height="322" fill="#000"/>
<g clip-path="url(#sq)"><g transform="translate(0 0)">
<use href="#tbody" fill="#2c2c2c" filter="url(#b1)"/>
<g clip-path="url(#tcl)"><ellipse cx="140" cy="10" rx="42" ry="17" fill="#484848" filter="url(#b2)"/></g>
<use href="#speck" fill="#fff" fill-opacity="0.8" filter="url(#b0)"/>
<use href="#cbody" fill="#1b1b1b" filter="url(#b1)"/>
<g stroke="#adadad" filter="url(#bA)" style="--m:1.00"><use href="#fib"/></g>
<use href="#spots" fill="#fff" filter="url(#b0)"/>
</g></g></g>
<g transform="translate(434.0 128.5) scale(1.0000)">
<rect width="322" height="322" fill="#000"/>
<g clip-path="url(#sq)"><g transform="translate(1 1)">
<use href="#tbody" fill="#7a7a7a" filter="url(#b1)"/>
<g clip-path="url(#tcl)"><ellipse cx="140" cy="10" rx="42" ry="17" fill="#d0d0d0" filter="url(#b2)"/></g>
<use href="#speck" fill="#fff" fill-opacity="1" filter="url(#b0)"/>
<use href="#cbody" fill="#090909" filter="url(#b1)"/>
<g stroke="#dadada" filter="url(#bB)" style="--m:1.30"><use href="#fib"/></g>
<use href="#spots" fill="#fff" filter="url(#b0)"/>
</g></g></g>
<g transform="translate(53.5 517.0) scale(1.0016)">
<rect width="322" height="322" fill="#000"/>
<g clip-path="url(#sq)"><g transform="translate(1.5 1.5)">
<use href="#tbody" fill="#383838" filter="url(#b1)"/>
<g clip-path="url(#tcl)"><ellipse cx="140" cy="10" rx="42" ry="17" fill="#6a6a6a" filter="url(#b2)"/></g>
<use href="#speck" fill="#fff" fill-opacity="1" filter="url(#b0)"/>
<rect x="22.5" y="2.6" width="4" height="1.1" fill="#7c2"/>
<use href="#cbody" fill="#171717" filter="url(#b1)"/>
<g stroke="#e0e0e0" filter="url(#bG)" style="--m:1.10"><use href="#fib"/></g>
<use href="#spots" fill="#fff" filter="url(#b0)"/>
</g></g></g>
<g transform="translate(434.0 521.0) scale(1.0000)">
<rect width="322" height="322" fill="#000"/>
<g clip-path="url(#sq)"><g transform="translate(0 0.5)">
<use href="#tbody" fill="#383838" filter="url(#b1)"/>
<g clip-path="url(#tcl)"><ellipse cx="140" cy="10" rx="42" ry="17" fill="#6a6a6a" filter="url(#b2)"/></g>
<use href="#speck" fill="#fff" fill-opacity="1" filter="url(#b0)"/>
<use href="#cbody" fill="#161616" filter="url(#b1)"/>
<g stroke="#e0e0e0" filter="url(#bH)" style="--m:1.10"><use href="#fib"/></g>
<use href="#spots" fill="#fff" filter="url(#b0)"/>
</g></g></g>
<g transform="translate(57.5 910.5) scale(1.0000)">
<rect width="322" height="322" fill="#000"/>
<g clip-path="url(#sq)"><g transform="translate(1.5 2.5)">
<use href="#tbody" fill="#343434" filter="url(#b1)"/>
<g clip-path="url(#tcl)"><ellipse cx="140" cy="10" rx="42" ry="17" fill="#626262" filter="url(#b2)"/></g>
<use href="#speck" fill="#fff" fill-opacity="1" filter="url(#b0)"/>
<rect x="22.5" y="2.6" width="4" height="1.1" fill="#7c2"/>
<use href="#cbody" fill="#171717" filter="url(#b1)"/>
<g stroke="#d6d6d6" filter="url(#bM)" style="--m:1.05"><use href="#fib"/></g>
<use href="#spots" fill="#fff" filter="url(#b0)"/>
</g></g></g>
<g transform="translate(438.0 916.0) scale(0.9984)">
<rect width="322" height="322" fill="#000"/>
<g clip-path="url(#sq)"><g transform="translate(0 2)">
<use href="#tbody" fill="#262626" filter="url(#b1)"/>
<g clip-path="url(#tcl)"><ellipse cx="140" cy="10" rx="42" ry="17" fill="#444" filter="url(#b2)"/></g>
<use href="#speck" fill="#fff" fill-opacity="0.6" filter="url(#b0)"/>
<use href="#cbody" fill="#121212" filter="url(#b1)"/>
<g stroke="#c6c6c6" stroke-dasharray="1.6 1.2" filter="url(#bN)" style="--m:1.00"><use href="#fib"/></g>
<use href="#spots" fill="#fff" filter="url(#b0)"/>
</g></g></g>
<path d="M956.25 202.00V384.25 M948.25 383.25H1092.50" stroke="#000" stroke-width="2" fill="none"/>
<path d="M948.25 203.00H956.25M948.25 263.08H956.25M948.25 323.17H956.25M982.50 383.25V391.25M1023.75 383.25V391.25M1064.25 383.25V391.25" stroke="#000" stroke-width="2" fill="none"/>
<text transform="translate(945.65 210.28) scale(1.145 1)" font-size="19.4" text-anchor="end" font-weight="bold">150</text>
<text transform="translate(945.65 270.37) scale(1.145 1)" font-size="19.4" text-anchor="end" font-weight="bold">100</text>
<text transform="translate(945.65 330.45) scale(1.145 1)" font-size="19.4" text-anchor="end" font-weight="bold">50</text>
<text transform="translate(945.65 390.53) scale(1.145 1)" font-size="19.4" text-anchor="end" font-weight="bold">0</text>
<text transform="translate(896.50 285.50) scale(1.146 1) rotate(-90)" font-size="19.8" text-anchor="middle" font-weight="bold">Amount of ventral SFs</text>
<text transform="translate(989.50 409.75) scale(1.145 1) rotate(-45)" font-size="19.4" text-anchor="end" font-weight="bold">cntrl [0.1 0.5]</text>
<text transform="translate(1030.75 409.75) scale(1.145 1) rotate(-45)" font-size="19.4" text-anchor="end" font-weight="bold">[0.01 0.99]</text>
<text transform="translate(1071.25 409.75) scale(1.145 1) rotate(-45)" font-size="19.4" text-anchor="end" font-weight="bold">[0.1 0.2]</text>
<ellipse cx="982.50" cy="305.50" rx="3.44" ry="3.00"/>
<ellipse cx="1023.75" cy="329.75" rx="3.44" ry="3.00"/>
<ellipse cx="1064.25" cy="210.25" rx="3.44" ry="3.00"/>
<path d="M1168.00 187.75V379.25 M1160.00 378.25H1305.50" stroke="#000" stroke-width="2" fill="none"/>
<path d="M1160.00 188.75H1168.00M1160.00 226.65H1168.00M1160.00 264.55H1168.00M1160.00 302.45H1168.00M1160.00 340.35H1168.00M1194.50 378.25V386.25M1235.60 378.25V386.25M1276.90 378.25V386.25" stroke="#000" stroke-width="2" fill="none"/>
<text transform="translate(1158.00 196.43) scale(1.100 1)" font-size="20.5" text-anchor="end" font-weight="bold">10</text>
<text transform="translate(1158.00 234.33) scale(1.100 1)" font-size="20.5" text-anchor="end" font-weight="bold">8</text>
<text transform="translate(1158.00 272.23) scale(1.100 1)" font-size="20.5" text-anchor="end" font-weight="bold">6</text>
<text transform="translate(1158.00 310.13) scale(1.100 1)" font-size="20.5" text-anchor="end" font-weight="bold">4</text>
<text transform="translate(1158.00 348.03) scale(1.100 1)" font-size="20.5" text-anchor="end" font-weight="bold">2</text>
<text transform="translate(1158.00 385.93) scale(1.100 1)" font-size="20.5" text-anchor="end" font-weight="bold">0</text>
<text transform="translate(1121.00 277.00) scale(1.080 1) rotate(-90)" font-size="21.7" text-anchor="middle" font-weight="bold">SFs/FA</text>
<text transform="translate(1201.50 404.75) scale(1.100 1) rotate(-45)" font-size="20.5" text-anchor="end" font-weight="bold">cntrl [0.1 0.5]</text>
<text transform="translate(1242.60 404.75) scale(1.100 1) rotate(-45)" font-size="20.5" text-anchor="end" font-weight="bold">[0.01 0.99]</text>
<text transform="translate(1283.90 404.75) scale(1.100 1) rotate(-45)" font-size="20.5" text-anchor="end" font-weight="bold">[0.1 0.2]</text>
<path d="M1194.50 308.25V369.00M1235.60 309.00V362.25M1276.90 281.75V366.00" stroke="#333" stroke-width="1.4" fill="none"/>
<g fill="#a4a4a4" stroke="#a4a4a4"><rect x="1193.73" y="244.90" width="1.54" height="1.4"/><rect x="1193.73" y="263.85" width="1.54" height="1.4"/><path d="M1192.00 283.50H1197.00" stroke-width="2.0"/><rect x="1193.73" y="301.75" width="1.54" height="1.4"/><path d="M1190.00 321.40H1199.00" stroke-width="2.0"/><path d="M1191.50 340.35H1197.50" stroke-width="2.0"/><path d="M1180.50 359.30H1208.50" stroke-width="2.3"/><path d="M1233.60 283.50H1237.60" stroke-width="2.0" stroke-dasharray="1.8 1.2"/><path d="M1233.60 302.45H1237.60" stroke-width="2.0" stroke-dasharray="1.8 1.2"/><path d="M1228.60 321.40H1242.60" stroke-width="2.0" stroke-dasharray="1.8 1.2"/><path d="M1233.10 340.35H1238.10" stroke-width="2.0" stroke-dasharray="1.8 1.2"/><path d="M1222.10 359.30H1249.10" stroke-width="2.3" stroke-dasharray="1.8 1.2"/><rect x="1276.13" y="207.00" width="1.54" height="1.4"/><rect x="1276.13" y="225.95" width="1.54" height="1.4"/><path d="M1274.40 245.60H1279.40" stroke-width="2.0"/><path d="M1273.90 264.55H1279.90" stroke-width="2.0"/><path d="M1272.90 302.45H1280.90" stroke-width="2.0"/><path d="M1271.40 321.40H1282.40" stroke-width="2.0"/><path d="M1272.90 340.35H1280.90" stroke-width="2.0"/><path d="M1263.40 359.30H1290.40" stroke-width="2.3"/></g>
<path d="M1188.00 308.25H1201.00M1188.00 369.00H1201.00M1229.10 309.00H1242.10M1229.10 362.25H1242.10M1270.40 281.75H1283.40M1270.40 366.00H1283.40" stroke="#1c1c1c" stroke-width="1.8" fill="none"/>
<path d="M1181.00 338.25H1208.00M1222.10 335.75H1249.10M1263.40 323.75H1290.40" stroke="#0a0a0a" stroke-width="2.3" fill="none"/>
<path d="M1409.10 188.50V379.25 M1401.10 378.25H1537.60" stroke="#000" stroke-width="2" fill="none"/>
<path d="M1401.10 189.50H1409.10M1401.10 236.69H1409.10M1401.10 283.88H1409.10M1401.10 331.06H1409.10M1434.25 378.25V386.25M1472.50 378.25V386.25M1511.25 378.25V386.25" stroke="#000" stroke-width="2" fill="none"/>
<text transform="translate(1399.10 197.18) scale(1.040 1)" font-size="20.5" text-anchor="end" font-weight="bold">0.10</text>
<text transform="translate(1399.10 244.37) scale(1.040 1)" font-size="20.5" text-anchor="end" font-weight="bold">0.05</text>
<text transform="translate(1399.10 291.56) scale(1.040 1)" font-size="20.5" text-anchor="end" font-weight="bold">0.00</text>
<text transform="translate(1399.10 338.74) scale(1.040 1)" font-size="20.5" text-anchor="end" font-weight="bold">-0.05</text>
<text transform="translate(1399.10 385.93) scale(1.040 1)" font-size="20.5" text-anchor="end" font-weight="bold">-0.10</text>
<text transform="translate(1341.00 277.00) scale(1.060 1) rotate(-90)" font-size="21" text-anchor="middle" font-weight="bold">Max curvature</text>
<text transform="translate(1441.25 404.75) scale(1.040 1) rotate(-45)" font-size="20.5" text-anchor="end" font-weight="bold">cntrl [0.1 0.5]</text>
<text transform="translate(1479.50 404.75) scale(1.040 1) rotate(-45)" font-size="20.5" text-anchor="end" font-weight="bold">[0.01 0.99]</text>
<text transform="translate(1518.25 404.75) scale(1.040 1) rotate(-45)" font-size="20.5" text-anchor="end" font-weight="bold">[0.1 0.2]</text>
<g stroke="#b4b4b4"><path d="M1434.25 302.75V255.56" stroke-width="3.0"/><path d="M1472.50 302.75V265.00" stroke-width="2.8"/><path d="M1511.25 300.86V266.89" stroke-width="3.4"/></g>
<path d="M1434.25 258.00V302.00M1472.50 259.00V304.25M1511.25 267.75V299.00" stroke="#333" stroke-width="1.4" fill="none"/>
<g fill="#a4a4a4" stroke="#a4a4a4"><rect x="1433.52" y="230.33" width="1.46" height="1.4"/><path d="M1429.75 236.69H1438.75" stroke-width="2.0"/><rect x="1433.52" y="241.65" width="1.46" height="1.4"/><path d="M1421.75 283.88H1446.75" stroke-width="3.6"/><rect x="1433.52" y="314.32" width="1.46" height="1.4"/><rect x="1433.52" y="319.04" width="1.46" height="1.4"/><rect x="1433.52" y="326.59" width="1.46" height="1.4"/><path d="M1431.75 331.06H1436.75" stroke-width="2.0"/><path d="M1466.50 236.69H1478.50" stroke-width="2.0" stroke-dasharray="1.8 1.2"/><path d="M1460.00 283.88H1485.00" stroke-width="3.6"/><rect x="1471.77" y="307.71" width="1.46" height="1.4"/><rect x="1471.77" y="317.15" width="1.46" height="1.4"/><path d="M1470.00 331.06H1475.00" stroke-width="2.0" stroke-dasharray="1.8 1.2"/><path d="M1509.25 236.69H1513.25" stroke-width="2.0"/><rect x="1510.52" y="238.82" width="1.46" height="1.4"/><rect x="1510.52" y="252.03" width="1.46" height="1.4"/><path d="M1498.75 283.88H1523.75" stroke-width="3.6"/><rect x="1510.52" y="308.66" width="1.46" height="1.4"/><rect x="1510.52" y="313.38" width="1.46" height="1.4"/><rect x="1510.52" y="317.15" width="1.46" height="1.4"/><rect x="1510.52" y="328.48" width="1.46" height="1.4"/><path d="M1509.75 331.06H1512.75" stroke-width="2.0"/><rect x="1510.52" y="335.08" width="1.46" height="1.4"/></g>
<path d="M1428.00 258.00H1440.50M1428.00 302.00H1440.50M1466.25 259.00H1478.75M1466.25 304.25H1478.75M1505.00 267.75H1517.50M1505.00 299.00H1517.50" stroke="#1c1c1c" stroke-width="1.8" fill="none"/>
<path d="M1421.75 280.00H1446.75M1460.00 281.50H1485.00M1498.75 283.25H1523.75" stroke="#0a0a0a" stroke-width="2.3" fill="none"/>
<path d="M1637.00 188.00V379.25 M1629.00 378.25H1771.00" stroke="#000" stroke-width="2" fill="none"/>
<path d="M1629.00 189.00H1637.00M1629.00 236.31H1637.00M1629.00 283.62H1637.00M1629.00 330.94H1637.00M1663.25 378.25V386.25M1702.25 378.25V386.25M1742.00 378.25V386.25" stroke="#000" stroke-width="2" fill="none"/>
<text transform="translate(1627.00 196.68) scale(1.050 1)" font-size="20.5" text-anchor="end" font-weight="bold">1.15</text>
<text transform="translate(1627.00 243.99) scale(1.050 1)" font-size="20.5" text-anchor="end" font-weight="bold">1.10</text>
<text transform="translate(1627.00 291.31) scale(1.050 1)" font-size="20.5" text-anchor="end" font-weight="bold">1.05</text>
<text transform="translate(1627.00 338.62) scale(1.050 1)" font-size="20.5" text-anchor="end" font-weight="bold">1.00</text>
<text transform="translate(1627.00 385.93) scale(1.050 1)" font-size="20.5" text-anchor="end" font-weight="bold">0.95</text>
<text transform="translate(1573.50 278.50) scale(1.030 1) rotate(-90)" font-size="21.5" text-anchor="middle" font-weight="bold">L/d</text>
<text transform="translate(1670.25 404.75) scale(1.050 1) rotate(-45)" font-size="20.5" text-anchor="end" font-weight="bold">cntrl [0.1 0.5]</text>
<text transform="translate(1709.25 404.75) scale(1.050 1) rotate(-45)" font-size="20.5" text-anchor="end" font-weight="bold">[0.01 0.99]</text>
<text transform="translate(1749.00 404.75) scale(1.050 1) rotate(-45)" font-size="20.5" text-anchor="end" font-weight="bold">[0.1 0.2]</text>
<path d="M1663.25 302.00V339.50M1702.25 309.75V334.50M1742.00 305.25V337.75" stroke="#333" stroke-width="1.4" fill="none"/>
<g fill="#a4a4a4" stroke="#a4a4a4"><rect x="1662.52" y="197.76" width="1.47" height="1.4"/><path d="M1661.25 274.16H1665.25" stroke-width="2.0"/><rect x="1662.52" y="282.92" width="1.47" height="1.4"/><rect x="1662.52" y="292.39" width="1.47" height="1.4"/><rect x="1662.52" y="301.85" width="1.47" height="1.4"/><path d="M1659.75 312.01H1666.75" stroke-width="2.0"/><path d="M1656.25 321.47H1670.25" stroke-width="2.0"/><path d="M1650.25 330.94H1676.25" stroke-width="2.3"/><rect x="1701.52" y="273.46" width="1.47" height="1.4"/><rect x="1701.52" y="282.92" width="1.47" height="1.4"/><rect x="1701.52" y="292.39" width="1.47" height="1.4"/><path d="M1699.25 312.01H1705.25" stroke-width="2.0"/><path d="M1691.25 321.47H1713.25" stroke-width="2.3"/><path d="M1689.25 330.94H1715.25" stroke-width="2.3"/><rect x="1741.27" y="245.07" width="1.47" height="1.4"/><rect x="1741.27" y="254.54" width="1.47" height="1.4"/><rect x="1741.27" y="264.00" width="1.47" height="1.4"/><rect x="1741.27" y="273.46" width="1.47" height="1.4"/><rect x="1741.27" y="282.92" width="1.47" height="1.4"/><rect x="1741.27" y="292.39" width="1.47" height="1.4"/><path d="M1740.50 302.55H1743.50" stroke-width="2.0"/><path d="M1739.50 312.01H1744.50" stroke-width="2.0"/><path d="M1737.00 321.47H1747.00" stroke-width="2.0"/><path d="M1729.00 330.94H1755.00" stroke-width="2.3"/></g>
<path d="M1656.75 302.00H1669.75M1656.75 339.50H1669.75M1695.75 309.75H1708.75M1695.75 334.50H1708.75M1735.50 305.25H1748.50M1735.50 337.75H1748.50" stroke="#1c1c1c" stroke-width="1.8" fill="none"/>
<path d="M1650.25 320.75H1676.25M1689.25 322.25H1715.25M1729.00 321.75H1755.00" stroke="#0a0a0a" stroke-width="2.3" fill="none"/>
<path d="M965.50 594.00V768.50 M957.50 767.50H1092.50" stroke="#000" stroke-width="2" fill="none"/>
<path d="M957.50 595.00H965.50M957.50 652.50H965.50M957.50 710.00H965.50M990.50 767.50V775.50M1028.50 767.50V775.50M1066.25 767.50V775.50" stroke="#000" stroke-width="2" fill="none"/>
<text transform="translate(955.50 601.89) scale(1.120 1)" font-size="18.3" text-anchor="end" font-weight="bold">150</text>
<text transform="translate(955.50 659.39) scale(1.120 1)" font-size="18.3" text-anchor="end" font-weight="bold">100</text>
<text transform="translate(955.50 716.89) scale(1.120 1)" font-size="18.3" text-anchor="end" font-weight="bold">50</text>
<text transform="translate(955.50 774.39) scale(1.120 1)" font-size="18.3" text-anchor="end" font-weight="bold">0</text>
<text transform="translate(911.00 674.00) scale(1.160 1) rotate(-90)" font-size="18.96" text-anchor="middle" font-weight="bold">Amount of ventral SFs</text>
<text transform="translate(997.50 794.00) scale(1.120 1) rotate(-45)" font-size="18.3" text-anchor="end" font-weight="bold">cntrl [0.005 0.3]</text>
<text transform="translate(1035.50 794.00) scale(1.120 1) rotate(-45)" font-size="18.3" text-anchor="end" font-weight="bold">[0.03 0.2]</text>
<text transform="translate(1073.25 794.00) scale(1.120 1) rotate(-45)" font-size="18.3" text-anchor="end" font-weight="bold">[0.06 0.1]</text>
<ellipse cx="990.50" cy="693.00" rx="3.36" ry="3.00"/>
<ellipse cx="1028.50" cy="680.50" rx="3.36" ry="3.00"/>
<ellipse cx="1066.25" cy="680.50" rx="3.36" ry="3.00"/>
<path d="M1179.25 576.00V763.75 M1171.25 762.75H1303.75" stroke="#000" stroke-width="2" fill="none"/>
<path d="M1171.25 577.00H1179.25M1171.25 614.15H1179.25M1171.25 651.30H1179.25M1171.25 688.45H1179.25M1171.25 725.60H1179.25M1203.25 762.75V770.75M1240.50 762.75V770.75M1277.50 762.75V770.75" stroke="#000" stroke-width="2" fill="none"/>
<text transform="translate(1169.25 584.50) scale(1.030 1)" font-size="20" text-anchor="end" font-weight="bold">10</text>
<text transform="translate(1169.25 621.65) scale(1.030 1)" font-size="20" text-anchor="end" font-weight="bold">8</text>
<text transform="translate(1169.25 658.80) scale(1.030 1)" font-size="20" text-anchor="end" font-weight="bold">6</text>
<text transform="translate(1169.25 695.95) scale(1.030 1)" font-size="20" text-anchor="end" font-weight="bold">4</text>
<text transform="translate(1169.25 733.10) scale(1.030 1)" font-size="20" text-anchor="end" font-weight="bold">2</text>
<text transform="translate(1169.25 770.25) scale(1.030 1)" font-size="20" text-anchor="end" font-weight="bold">0</text>
<text transform="translate(1136.50 664.50) scale(1.080 1) rotate(-90)" font-size="20.4" text-anchor="middle" font-weight="bold">SFs/FA</text>
<text transform="translate(1210.25 789.25) scale(1.030 1) rotate(-45)" font-size="20" text-anchor="end" font-weight="bold">cntrl [0.005 0.3]</text>
<text transform="translate(1247.50 789.25) scale(1.030 1) rotate(-45)" font-size="20" text-anchor="end" font-weight="bold">[0.03 0.2]</text>
<text transform="translate(1284.50 789.25) scale(1.030 1) rotate(-45)" font-size="20" text-anchor="end" font-weight="bold">[0.06 0.1]</text>
<path d="M1203.25 694.00V754.25M1240.50 697.25V752.75M1277.50 694.50V750.50" stroke="#333" stroke-width="1.4" fill="none"/>
<g fill="#a4a4a4" stroke="#a4a4a4"><rect x="1202.53" y="632.02" width="1.44" height="1.4"/><rect x="1202.53" y="650.60" width="1.44" height="1.4"/><path d="M1201.25 669.88H1205.25" stroke-width="2.0"/><rect x="1202.53" y="687.75" width="1.44" height="1.4"/><path d="M1199.75 707.02H1206.75" stroke-width="2.0"/><path d="M1200.75 725.60H1205.75" stroke-width="2.0"/><path d="M1190.75 744.17H1215.75" stroke-width="2.3"/><rect x="1239.78" y="632.02" width="1.44" height="1.4"/><rect x="1239.78" y="669.17" width="1.44" height="1.4"/><path d="M1237.50 688.45H1243.50" stroke-width="2.0"/><path d="M1237.50 707.02H1243.50" stroke-width="2.0"/><path d="M1238.50 725.60H1242.50" stroke-width="2.0"/><path d="M1228.00 744.17H1253.00" stroke-width="2.3"/><rect x="1276.78" y="650.60" width="1.44" height="1.4"/><path d="M1275.50 669.88H1279.50" stroke-width="2.0"/><path d="M1274.00 688.45H1281.00" stroke-width="2.0"/><path d="M1274.50 707.02H1280.50" stroke-width="2.0"/><path d="M1274.50 725.60H1280.50" stroke-width="2.0"/><path d="M1265.00 744.17H1290.00" stroke-width="2.3"/></g>
<path d="M1197.25 694.00H1209.25M1197.25 754.25H1209.25M1234.50 697.25H1246.50M1234.50 752.75H1246.50M1271.50 694.50H1283.50M1271.50 750.50H1283.50" stroke="#1c1c1c" stroke-width="1.8" fill="none"/>
<path d="M1191.00 724.00H1215.50M1228.25 725.00H1252.75M1265.25 722.50H1289.75" stroke="#0a0a0a" stroke-width="2.3" fill="none"/>
<path d="M1410.75 580.50V763.00 M1402.75 762.00H1537.50" stroke="#000" stroke-width="2" fill="none"/>
<path d="M1402.75 581.50H1410.75M1402.75 626.62H1410.75M1402.75 671.75H1410.75M1402.75 716.88H1410.75M1435.75 762.00V770.00M1473.50 762.00V770.00M1511.25 762.00V770.00" stroke="#000" stroke-width="2" fill="none"/>
<text transform="translate(1400.75 588.89) scale(1.050 1)" font-size="19.7" text-anchor="end" font-weight="bold">0.10</text>
<text transform="translate(1400.75 634.02) scale(1.050 1)" font-size="19.7" text-anchor="end" font-weight="bold">0.05</text>
<text transform="translate(1400.75 679.14) scale(1.050 1)" font-size="19.7" text-anchor="end" font-weight="bold">0.00</text>
<text transform="translate(1400.75 724.27) scale(1.050 1)" font-size="19.7" text-anchor="end" font-weight="bold">-0.05</text>
<text transform="translate(1400.75 769.39) scale(1.050 1)" font-size="19.7" text-anchor="end" font-weight="bold">-0.10</text>
<text transform="translate(1344.00 665.50) scale(1.090 1) rotate(-90)" font-size="19.8" text-anchor="middle" font-weight="bold">Max curvature</text>
<text transform="translate(1442.75 788.50) scale(1.050 1) rotate(-45)" font-size="19.7" text-anchor="end" font-weight="bold">cntrl [0.005 0.3]</text>
<text transform="translate(1480.50 788.50) scale(1.050 1) rotate(-45)" font-size="19.7" text-anchor="end" font-weight="bold">[0.03 0.2]</text>
<text transform="translate(1518.25 788.50) scale(1.050 1) rotate(-45)" font-size="19.7" text-anchor="end" font-weight="bold">[0.06 0.1]</text>
<g stroke="#b4b4b4"><path d="M1435.75 689.80V644.67" stroke-width="3.0"/><path d="M1473.50 689.80V653.70" stroke-width="2.8"/><path d="M1511.25 688.00V655.50" stroke-width="3.4"/></g>
<path d="M1435.75 647.75V689.50M1473.50 651.50V693.25M1511.25 651.00V690.50" stroke="#333" stroke-width="1.4" fill="none"/>
<g fill="#a4a4a4" stroke="#a4a4a4"><rect x="1435.02" y="620.51" width="1.47" height="1.4"/><path d="M1431.25 626.62H1440.25" stroke-width="2.0"/><rect x="1435.02" y="631.34" width="1.47" height="1.4"/><path d="M1423.25 671.75H1448.25" stroke-width="3.6"/><rect x="1435.02" y="700.83" width="1.47" height="1.4"/><rect x="1435.02" y="705.34" width="1.47" height="1.4"/><rect x="1435.02" y="712.56" width="1.47" height="1.4"/><path d="M1433.25 716.88H1438.25" stroke-width="2.0"/><path d="M1470.50 626.62H1476.50" stroke-width="2.0"/><rect x="1472.77" y="643.97" width="1.47" height="1.4"/><path d="M1461.00 671.75H1486.00" stroke-width="3.6"/><rect x="1472.77" y="694.51" width="1.47" height="1.4"/><rect x="1472.77" y="703.54" width="1.47" height="1.4"/><path d="M1471.00 716.88H1476.00" stroke-width="2.0" stroke-dasharray="1.8 1.2"/><path d="M1509.25 626.62H1513.25" stroke-width="2.0"/><rect x="1510.52" y="628.63" width="1.47" height="1.4"/><rect x="1510.52" y="641.27" width="1.47" height="1.4"/><path d="M1498.75 671.75H1523.75" stroke-width="3.6"/><rect x="1510.52" y="695.42" width="1.47" height="1.4"/><rect x="1510.52" y="699.93" width="1.47" height="1.4"/><rect x="1510.52" y="703.54" width="1.47" height="1.4"/><rect x="1510.52" y="714.37" width="1.47" height="1.4"/><path d="M1509.75 716.88H1512.75" stroke-width="2.0"/><rect x="1510.52" y="720.69" width="1.47" height="1.4"/></g>
<path d="M1429.75 647.75H1441.75M1429.75 689.50H1441.75M1467.50 651.50H1479.50M1467.50 693.25H1479.50M1505.25 651.00H1517.25M1505.25 690.50H1517.25" stroke="#1c1c1c" stroke-width="1.8" fill="none"/>
<path d="M1423.25 668.50H1448.25M1461.00 672.25H1486.00M1498.75 671.00H1523.75" stroke="#0a0a0a" stroke-width="2.3" fill="none"/>
<path d="M1642.75 580.25V763.00 M1634.75 762.00H1771.00" stroke="#000" stroke-width="2" fill="none"/>
<path d="M1634.75 581.25H1642.75M1634.75 626.44H1642.75M1634.75 671.62H1642.75M1634.75 716.81H1642.75M1667.75 762.00V770.00M1705.75 762.00V770.00M1743.50 762.00V770.00" stroke="#000" stroke-width="2" fill="none"/>
<text transform="translate(1632.75 588.50) scale(1.070 1)" font-size="19.3" text-anchor="end" font-weight="bold">1.15</text>
<text transform="translate(1632.75 633.69) scale(1.070 1)" font-size="19.3" text-anchor="end" font-weight="bold">1.10</text>
<text transform="translate(1632.75 678.87) scale(1.070 1)" font-size="19.3" text-anchor="end" font-weight="bold">1.05</text>
<text transform="translate(1632.75 724.06) scale(1.070 1)" font-size="19.3" text-anchor="end" font-weight="bold">1.00</text>
<text transform="translate(1632.75 769.25) scale(1.070 1)" font-size="19.3" text-anchor="end" font-weight="bold">0.95</text>
<text transform="translate(1582.00 667.50) scale(1.050 1) rotate(-90)" font-size="19.5" text-anchor="middle" font-weight="bold">L/d</text>
<text transform="translate(1674.75 788.50) scale(1.070 1) rotate(-45)" font-size="19.3" text-anchor="end" font-weight="bold">cntrl [0.005 0.3]</text>
<text transform="translate(1712.75 788.50) scale(1.070 1) rotate(-45)" font-size="19.3" text-anchor="end" font-weight="bold">[0.03 0.2]</text>
<text transform="translate(1750.50 788.50) scale(1.070 1) rotate(-45)" font-size="19.3" text-anchor="end" font-weight="bold">[0.06 0.1]</text>
<path d="M1667.75 689.50V725.50M1705.75 696.50V721.25M1743.50 697.75V722.00" stroke="#333" stroke-width="1.4" fill="none"/>
<g fill="#a4a4a4" stroke="#a4a4a4"><rect x="1667.00" y="589.59" width="1.50" height="1.4"/><path d="M1666.25 662.59H1669.25" stroke-width="2.0"/><rect x="1667.00" y="670.92" width="1.50" height="1.4"/><rect x="1667.00" y="679.96" width="1.50" height="1.4"/><rect x="1667.00" y="689.00" width="1.50" height="1.4"/><path d="M1664.75 698.74H1670.75" stroke-width="2.0"/><path d="M1661.75 707.77H1673.75" stroke-width="2.0"/><path d="M1655.25 716.81H1680.25" stroke-width="2.3"/><rect x="1705.00" y="661.89" width="1.50" height="1.4"/><rect x="1705.00" y="670.92" width="1.50" height="1.4"/><rect x="1705.00" y="679.96" width="1.50" height="1.4"/><rect x="1705.00" y="689.00" width="1.50" height="1.4"/><path d="M1703.25 698.74H1708.25" stroke-width="2.0"/><path d="M1699.75 707.77H1711.75" stroke-width="2.0"/><path d="M1693.25 716.81H1718.25" stroke-width="2.3"/><rect x="1742.75" y="643.81" width="1.50" height="1.4"/><rect x="1742.75" y="670.92" width="1.50" height="1.4"/><rect x="1742.75" y="679.96" width="1.50" height="1.4"/><rect x="1742.75" y="689.00" width="1.50" height="1.4"/><path d="M1741.00 698.74H1746.00" stroke-width="2.0"/><path d="M1738.50 707.77H1748.50" stroke-width="2.0"/><path d="M1731.00 716.81H1756.00" stroke-width="2.3"/></g>
<path d="M1661.75 689.50H1673.75M1661.75 725.50H1673.75M1699.75 696.50H1711.75M1699.75 721.25H1711.75M1737.50 697.75H1749.50M1737.50 722.00H1749.50" stroke="#1c1c1c" stroke-width="1.8" fill="none"/>
<path d="M1655.25 707.25H1680.25M1693.25 708.75H1718.25M1731.00 709.75H1756.00" stroke="#0a0a0a" stroke-width="2.3" fill="none"/>
<path d="M960.00 1012.25V1178.00 M952.00 1177.00H1096.25" stroke="#000" stroke-width="2" fill="none"/>
<path d="M952.00 1013.25H960.00M952.00 1067.83H960.00M952.00 1122.42H960.00M986.75 1177.00V1185.00M1027.50 1177.00V1185.00M1068.00 1177.00V1185.00" stroke="#000" stroke-width="2" fill="none"/>
<text transform="translate(948.80 1019.74) scale(1.270 1)" font-size="17.2" text-anchor="end" font-weight="bold">150</text>
<text transform="translate(948.80 1074.33) scale(1.270 1)" font-size="17.2" text-anchor="end" font-weight="bold">100</text>
<text transform="translate(948.80 1128.91) scale(1.270 1)" font-size="17.2" text-anchor="end" font-weight="bold">50</text>
<text transform="translate(948.80 1183.49) scale(1.270 1)" font-size="17.2" text-anchor="end" font-weight="bold">0</text>
<text transform="translate(901.00 1088.00) scale(1.300 1) rotate(-90)" font-size="18.1" text-anchor="middle" font-weight="bold">Amount of ventral SFs</text>
<text transform="translate(994.35 1199.75) scale(1.270 1) rotate(-45)" font-size="17.9" text-anchor="end" font-weight="bold">cntrl [3 1]</text>
<text transform="translate(1035.10 1199.75) scale(1.270 1) rotate(-45)" font-size="17.9" text-anchor="end" font-weight="bold">[1 1]</text>
<text transform="translate(1075.60 1199.75) scale(1.270 1) rotate(-45)" font-size="17.9" text-anchor="end" font-weight="bold">[1 3]</text>
<ellipse cx="986.75" cy="1106.50" rx="3.81" ry="3.00"/>
<ellipse cx="1027.50" cy="1121.75" rx="3.81" ry="3.00"/>
<ellipse cx="1068.00" cy="1138.25" rx="3.81" ry="3.00"/>
<path d="M1169.75 1000.25V1174.25 M1161.75 1173.25H1294.50" stroke="#000" stroke-width="2" fill="none"/>
<path d="M1161.75 1001.25H1169.75M1161.75 1035.65H1169.75M1161.75 1070.05H1169.75M1161.75 1104.45H1169.75M1161.75 1138.85H1169.75M1193.75 1173.25V1181.25M1231.25 1173.25V1181.25M1268.75 1173.25V1181.25" stroke="#000" stroke-width="2" fill="none"/>
<text transform="translate(1159.75 1008.25) scale(1.120 1)" font-size="18.6" text-anchor="end" font-weight="bold">10</text>
<text transform="translate(1159.75 1042.65) scale(1.120 1)" font-size="18.6" text-anchor="end" font-weight="bold">8</text>
<text transform="translate(1159.75 1077.05) scale(1.120 1)" font-size="18.6" text-anchor="end" font-weight="bold">6</text>
<text transform="translate(1159.75 1111.45) scale(1.120 1)" font-size="18.6" text-anchor="end" font-weight="bold">4</text>
<text transform="translate(1159.75 1145.85) scale(1.120 1)" font-size="18.6" text-anchor="end" font-weight="bold">2</text>
<text transform="translate(1159.75 1180.25) scale(1.120 1)" font-size="18.6" text-anchor="end" font-weight="bold">0</text>
<text transform="translate(1127.00 1081.00) scale(1.130 1) rotate(-90)" font-size="19.5" text-anchor="middle" font-weight="bold">SFs/FA</text>
<text transform="translate(1200.75 1195.75) scale(1.120 1) rotate(-45)" font-size="18.6" text-anchor="end" font-weight="bold">cntrl [3 1]</text>
<text transform="translate(1238.25 1195.75) scale(1.120 1) rotate(-45)" font-size="18.6" text-anchor="end" font-weight="bold">[1 1]</text>
<text transform="translate(1275.75 1195.75) scale(1.120 1) rotate(-45)" font-size="18.6" text-anchor="end" font-weight="bold">[1 3]</text>
<path d="M1193.75 1109.50V1164.75M1231.25 1113.25V1160.25M1268.75 1128.25V1159.50" stroke="#333" stroke-width="1.4" fill="none"/>
<g fill="#a4a4a4" stroke="#a4a4a4"><rect x="1192.97" y="1052.15" width="1.57" height="1.4"/><rect x="1192.97" y="1069.35" width="1.57" height="1.4"/><path d="M1191.75 1087.25H1195.75" stroke-width="2.0"/><rect x="1192.97" y="1103.75" width="1.57" height="1.4"/><path d="M1189.75 1121.65H1197.75" stroke-width="2.0"/><path d="M1191.75 1138.85H1195.75" stroke-width="2.0"/><path d="M1181.25 1156.05H1206.25" stroke-width="2.3"/><rect x="1230.47" y="1086.55" width="1.57" height="1.4"/><path d="M1225.25 1104.45H1237.25" stroke-width="2.0" stroke-dasharray="1.8 1.2"/><rect x="1230.47" y="1120.95" width="1.57" height="1.4"/><path d="M1228.25 1138.85H1234.25" stroke-width="2.0" stroke-dasharray="1.8 1.2"/><path d="M1219.25 1156.05H1243.25" stroke-width="2.3" stroke-dasharray="1.8 1.2"/><rect x="1267.97" y="1103.75" width="1.57" height="1.4"/><path d="M1266.25 1121.65H1271.25" stroke-width="2.0" stroke-dasharray="1.8 1.2"/><path d="M1261.25 1138.85H1276.25" stroke-width="2.0" stroke-dasharray="1.8 1.2"/><path d="M1256.75 1156.05H1280.75" stroke-width="2.3" stroke-dasharray="1.8 1.2"/></g>
<path d="M1187.75 1109.50H1199.75M1187.75 1164.75H1199.75M1225.25 1113.25H1237.25M1225.25 1160.25H1237.25M1262.75 1128.25H1274.75M1262.75 1159.50H1274.75" stroke="#1c1c1c" stroke-width="1.8" fill="none"/>
<path d="M1181.25 1137.00H1206.25M1218.75 1136.50H1243.75M1256.25 1143.75H1281.25" stroke="#0a0a0a" stroke-width="2.3" fill="none"/>
<path d="M1412.40 1000.25V1174.25 M1404.40 1173.25H1541.50" stroke="#000" stroke-width="2" fill="none"/>
<path d="M1404.40 1001.25H1412.40M1404.40 1044.25H1412.40M1404.40 1087.25H1412.40M1404.40 1130.25H1412.40M1437.60 1173.25V1181.25M1476.10 1173.25V1181.25M1514.50 1173.25V1181.25" stroke="#000" stroke-width="2" fill="none"/>
<text transform="translate(1402.40 1008.25) scale(1.145 1)" font-size="18.6" text-anchor="end" font-weight="bold">0.10</text>
<text transform="translate(1402.40 1051.25) scale(1.145 1)" font-size="18.6" text-anchor="end" font-weight="bold">0.05</text>
<text transform="translate(1402.40 1094.25) scale(1.145 1)" font-size="18.6" text-anchor="end" font-weight="bold">0.00</text>
<text transform="translate(1402.40 1137.25) scale(1.145 1)" font-size="18.6" text-anchor="end" font-weight="bold">-0.05</text>
<text transform="translate(1402.40 1180.25) scale(1.145 1)" font-size="18.6" text-anchor="end" font-weight="bold">-0.10</text>
<text transform="translate(1345.00 1081.50) scale(1.130 1) rotate(-90)" font-size="19.15" text-anchor="middle" font-weight="bold">Max curvature</text>
<text transform="translate(1444.60 1195.75) scale(1.145 1) rotate(-45)" font-size="18.6" text-anchor="end" font-weight="bold">cntrl [3 1]</text>
<text transform="translate(1483.10 1195.75) scale(1.145 1) rotate(-45)" font-size="18.6" text-anchor="end" font-weight="bold">[1 1]</text>
<text transform="translate(1521.50 1195.75) scale(1.145 1) rotate(-45)" font-size="18.6" text-anchor="end" font-weight="bold">[1 3]</text>
<g stroke="#b4b4b4"><path d="M1437.60 1104.45V1061.45" stroke-width="3.0"/><path d="M1476.10 1094.13V1080.37" stroke-width="2.8"/><path d="M1514.50 1094.13V1080.37" stroke-width="2.8"/></g>
<path d="M1437.60 1063.50V1103.75M1476.10 1076.50V1102.00M1514.50 1075.75V1102.75" stroke="#333" stroke-width="1.4" fill="none"/>
<g fill="#a4a4a4" stroke="#a4a4a4"><rect x="1436.80" y="1038.39" width="1.60" height="1.4"/><path d="M1433.10 1044.25H1442.10" stroke-width="2.0"/><rect x="1436.80" y="1048.71" width="1.60" height="1.4"/><path d="M1425.10 1087.25H1450.10" stroke-width="3.6"/><rect x="1436.80" y="1114.93" width="1.60" height="1.4"/><rect x="1436.80" y="1119.23" width="1.60" height="1.4"/><rect x="1436.80" y="1126.11" width="1.60" height="1.4"/><path d="M1435.10 1130.25H1440.10" stroke-width="2.0"/><rect x="1475.30" y="1043.55" width="1.60" height="1.4"/><rect x="1475.30" y="1073.65" width="1.60" height="1.4"/><path d="M1463.60 1087.25H1488.60" stroke-width="3.4"/><rect x="1475.30" y="1108.05" width="1.60" height="1.4"/><rect x="1475.30" y="1116.65" width="1.60" height="1.4"/><rect x="1475.30" y="1119.23" width="1.60" height="1.4"/><rect x="1475.30" y="1129.55" width="1.60" height="1.4"/><rect x="1513.70" y="1043.55" width="1.60" height="1.4"/><path d="M1502.00 1087.25H1527.00" stroke-width="3.4"/><rect x="1513.70" y="1117.51" width="1.60" height="1.4"/><path d="M1512.50 1130.25H1516.50" stroke-width="2.0" stroke-dasharray="1.8 1.2"/></g>
<path d="M1431.60 1063.50H1443.60M1431.60 1103.75H1443.60M1470.10 1076.50H1482.10M1470.10 1102.00H1482.10M1508.50 1075.75H1520.50M1508.50 1102.75H1520.50" stroke="#1c1c1c" stroke-width="1.8" fill="none"/>
<path d="M1425.10 1083.75H1450.10M1463.60 1089.25H1488.60M1502.00 1089.25H1527.00" stroke="#0a0a0a" stroke-width="2.3" fill="none"/>
<path d="M1637.00 976.00V1183.00 M1628.00 1182.00H1771.00" stroke="#000" stroke-width="2" fill="none"/>
<path d="M1628.00 977.00H1637.00M1628.00 1028.25H1637.00M1628.00 1079.50H1637.00M1628.00 1130.75H1637.00M1663.25 1182.00V1191.00M1702.25 1182.00V1191.00M1742.00 1182.00V1191.00" stroke="#000" stroke-width="2" fill="none"/>
<text transform="translate(1626.00 985.40) scale(0.960 1)" font-size="22.5" text-anchor="end" font-weight="bold">1.15</text>
<text transform="translate(1626.00 1036.65) scale(0.960 1)" font-size="22.5" text-anchor="end" font-weight="bold">1.10</text>
<text transform="translate(1626.00 1087.90) scale(0.960 1)" font-size="22.5" text-anchor="end" font-weight="bold">1.05</text>
<text transform="translate(1626.00 1139.15) scale(0.960 1)" font-size="22.5" text-anchor="end" font-weight="bold">1.00</text>
<text transform="translate(1626.00 1190.40) scale(0.960 1)" font-size="22.5" text-anchor="end" font-weight="bold">0.95</text>
<text transform="translate(1573.50 1074.00) scale(0.980 1) rotate(-90)" font-size="22.2" text-anchor="middle" font-weight="bold">L/d</text>
<text transform="translate(1670.25 1208.50) scale(0.960 1) rotate(-45)" font-size="22.5" text-anchor="end" font-weight="bold">cntrl [3 1]</text>
<text transform="translate(1709.25 1208.50) scale(0.960 1) rotate(-45)" font-size="22.5" text-anchor="end" font-weight="bold">[1 1]</text>
<text transform="translate(1749.00 1208.50) scale(0.960 1) rotate(-45)" font-size="22.5" text-anchor="end" font-weight="bold">[1 3]</text>
<path d="M1663.25 1099.00V1140.00M1702.25 1113.50V1134.50M1742.00 1117.50V1133.50" stroke="#333" stroke-width="1.4" fill="none"/>
<g fill="#a4a4a4" stroke="#a4a4a4"><rect x="1662.58" y="986.55" width="1.34" height="1.4"/><path d="M1661.25 1069.25H1665.25" stroke-width="2.0"/><rect x="1662.58" y="1078.80" width="1.34" height="1.4"/><rect x="1662.58" y="1089.05" width="1.34" height="1.4"/><path d="M1659.75 1110.25H1666.75" stroke-width="2.0"/><path d="M1657.25 1120.50H1669.25" stroke-width="2.0"/><path d="M1649.75 1130.75H1676.75" stroke-width="2.3"/><rect x="1701.58" y="1078.80" width="1.34" height="1.4"/><rect x="1701.58" y="1099.30" width="1.34" height="1.4"/><path d="M1699.25 1110.25H1705.25" stroke-width="2.0"/><path d="M1698.25 1120.50H1706.25" stroke-width="2.0"/><path d="M1688.75 1130.75H1715.75" stroke-width="2.3"/><rect x="1741.33" y="1099.30" width="1.34" height="1.4"/><path d="M1740.00 1110.25H1744.00" stroke-width="2.0"/><path d="M1738.00 1120.50H1746.00" stroke-width="2.0"/><path d="M1728.50 1130.75H1755.50" stroke-width="2.3"/></g>
<path d="M1656.25 1099.00H1670.25M1656.25 1140.00H1670.25M1695.25 1113.50H1709.25M1695.25 1134.50H1709.25M1735.00 1117.50H1749.00M1735.00 1133.50H1749.00" stroke="#1c1c1c" stroke-width="1.8" fill="none"/>
<path d="M1649.75 1119.50H1676.75M1688.75 1124.00H1715.75M1728.50 1125.75H1755.50" stroke="#0a0a0a" stroke-width="2.3" fill="none"/>
</svg></body></html>
